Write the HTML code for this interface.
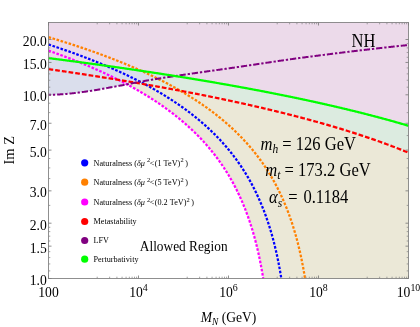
<!DOCTYPE html>
<html><head><meta charset="utf-8"><title>Im Z vs M_N</title>
<style>html,body{margin:0;padding:0;background:#fff;}body{width:420px;height:327px;overflow:hidden;font-family:"Liberation Serif",serif;}svg{display:block;filter:blur(0.45px);}</style></head>
<body>
<svg width="420" height="327" viewBox="0 0 420 327">
<rect width="420" height="327" fill="#fff"/>
<g shape-rendering="geometricPrecision">
<path d="M48.50 22.50 L408.50 22.50 L408.50 125.77 L407.75 125.55 L407.00 125.33 L406.25 125.11 L405.50 124.89 L404.75 124.67 L404.00 124.45 L403.25 124.23 L402.50 124.02 L401.75 123.80 L401.00 123.58 L400.25 123.37 L399.50 123.15 L398.75 122.94 L398.00 122.72 L397.25 122.51 L396.50 122.30 L395.75 122.09 L395.00 121.87 L394.25 121.66 L393.50 121.45 L392.75 121.24 L392.00 121.03 L391.25 120.82 L390.50 120.62 L389.75 120.41 L389.00 120.20 L388.25 119.99 L387.50 119.79 L386.75 119.58 L386.00 119.38 L385.25 119.17 L384.50 118.97 L383.75 118.77 L383.00 118.56 L382.25 118.36 L381.50 118.16 L380.75 117.96 L380.00 117.76 L379.25 117.56 L378.50 117.36 L377.75 117.16 L377.00 116.96 L376.25 116.76 L375.50 116.56 L374.75 116.36 L374.00 116.17 L373.25 115.97 L372.50 115.77 L371.75 115.58 L371.00 115.38 L370.25 115.19 L369.50 114.99 L368.75 114.80 L368.00 114.61 L367.25 114.41 L366.50 114.22 L365.75 114.03 L365.00 113.84 L364.25 113.65 L363.50 113.46 L362.75 113.27 L362.00 113.08 L361.25 112.89 L360.50 112.70 L359.75 112.51 L359.00 112.32 L358.25 112.14 L357.50 111.95 L356.75 111.76 L356.00 111.58 L355.25 111.39 L354.50 111.21 L353.75 111.02 L353.00 110.84 L352.25 110.65 L351.50 110.47 L350.75 110.29 L350.00 110.11 L349.25 109.92 L348.50 109.74 L347.75 109.56 L347.00 109.38 L346.25 109.20 L345.50 109.02 L344.75 108.84 L344.00 108.66 L343.25 108.48 L342.50 108.30 L341.75 108.12 L341.00 107.95 L340.25 107.77 L339.50 107.59 L338.75 107.42 L338.00 107.24 L337.25 107.06 L336.50 106.89 L335.75 106.71 L335.00 106.54 L334.25 106.36 L333.50 106.19 L332.75 106.02 L332.00 105.84 L331.25 105.67 L330.50 105.50 L329.75 105.33 L329.00 105.16 L328.25 104.98 L327.50 104.81 L326.75 104.64 L326.00 104.47 L325.25 104.30 L324.50 104.13 L323.75 103.96 L323.00 103.80 L322.25 103.63 L321.50 103.46 L320.75 103.29 L320.00 103.12 L319.25 102.96 L318.50 102.79 L317.75 102.62 L317.00 102.46 L316.25 102.29 L315.50 102.13 L314.75 101.96 L314.00 101.80 L313.25 101.63 L312.50 101.47 L311.75 101.31 L311.00 101.14 L310.25 100.98 L309.50 100.82 L308.75 100.66 L308.00 100.49 L307.25 100.33 L306.50 100.17 L305.75 100.01 L305.00 99.85 L304.25 99.69 L303.50 99.53 L302.75 99.37 L302.00 99.21 L301.25 99.05 L300.50 98.89 L299.75 98.74 L299.00 98.58 L298.25 98.42 L297.50 98.26 L296.75 98.11 L296.00 97.95 L295.25 97.79 L294.50 97.64 L293.75 97.48 L293.00 97.32 L292.25 97.17 L291.50 97.01 L290.75 96.86 L290.00 96.71 L289.25 96.55 L288.50 96.40 L287.75 96.24 L287.00 96.09 L286.25 95.94 L285.50 95.79 L284.75 95.63 L284.00 95.48 L283.25 95.33 L282.50 95.18 L281.75 95.03 L281.00 94.88 L280.25 94.73 L279.50 94.58 L278.75 94.43 L278.00 94.28 L277.25 94.13 L276.50 93.98 L275.75 93.83 L275.00 93.68 L274.25 93.53 L273.50 93.38 L272.75 93.24 L272.00 93.09 L271.25 92.94 L270.50 92.79 L269.75 92.65 L269.00 92.50 L268.25 92.36 L267.50 92.21 L266.75 92.06 L266.00 91.92 L265.25 91.77 L264.50 91.63 L263.75 91.48 L263.00 91.34 L262.25 91.20 L261.50 91.05 L260.75 90.91 L260.00 90.77 L259.25 90.62 L258.50 90.48 L257.75 90.34 L257.00 90.19 L256.25 90.05 L255.50 89.91 L254.75 89.77 L254.00 89.63 L253.25 89.49 L252.50 89.35 L251.75 89.21 L251.00 89.07 L250.25 88.93 L249.50 88.79 L248.75 88.65 L248.00 88.51 L247.25 88.37 L246.50 88.23 L245.75 88.09 L245.00 87.95 L244.25 87.81 L243.50 87.68 L242.75 87.54 L242.00 87.40 L241.25 87.27 L240.50 87.13 L239.75 86.99 L239.00 86.86 L238.25 86.72 L237.50 86.58 L236.75 86.45 L236.00 86.31 L235.25 86.18 L234.50 86.04 L233.75 85.91 L233.00 85.77 L232.25 85.64 L231.50 85.50 L230.75 85.37 L230.00 85.24 L229.25 85.10 L228.50 84.97 L227.75 84.84 L227.00 84.70 L226.25 84.57 L225.50 84.44 L224.75 84.31 L224.00 84.18 L223.25 84.04 L222.50 83.91 L221.75 83.78 L221.00 83.65 L220.25 83.52 L219.50 83.39 L218.75 83.26 L218.00 83.13 L217.25 83.00 L216.50 82.87 L215.75 82.74 L215.00 82.61 L214.25 82.48 L213.50 82.35 L212.75 82.22 L212.00 82.09 L211.25 81.97 L210.50 81.84 L209.75 81.71 L209.00 81.58 L208.25 81.46 L207.50 81.33 L206.75 81.20 L206.00 81.07 L205.25 80.95 L204.50 80.82 L203.75 80.69 L203.00 80.57 L202.25 80.44 L201.50 80.32 L200.75 80.19 L200.00 80.07 L199.25 79.94 L198.50 79.82 L197.75 79.69 L197.00 79.57 L196.25 79.44 L195.50 79.32 L194.75 79.20 L194.00 79.07 L193.25 78.95 L192.50 78.82 L191.75 78.70 L191.00 78.58 L190.25 78.46 L189.50 78.33 L188.75 78.21 L188.00 78.09 L187.25 77.97 L186.50 77.84 L185.75 77.72 L185.00 77.60 L184.25 77.48 L183.50 77.36 L182.75 77.24 L182.00 77.12 L181.25 77.00 L180.50 76.88 L179.75 76.76 L179.00 76.64 L178.25 76.52 L177.50 76.40 L176.75 76.28 L176.00 76.16 L175.25 76.04 L174.50 75.92 L173.75 75.80 L173.00 75.68 L172.25 75.56 L171.50 75.45 L170.75 75.33 L170.00 75.21 L169.25 75.09 L168.50 74.98 L167.75 74.86 L167.00 74.74 L166.25 74.62 L165.50 74.51 L164.75 74.39 L164.00 74.27 L163.25 74.16 L162.50 74.04 L161.75 73.93 L161.00 73.81 L160.25 73.69 L159.50 73.58 L158.75 73.46 L158.00 73.35 L157.25 73.23 L156.50 73.12 L155.75 73.00 L155.00 72.89 L154.25 72.78 L153.50 72.66 L152.75 72.55 L152.00 72.43 L151.25 72.32 L150.50 72.21 L149.75 72.09 L149.00 71.98 L148.25 71.87 L147.50 71.75 L146.75 71.64 L146.00 71.53 L145.25 71.42 L144.50 71.30 L143.75 71.19 L143.00 71.08 L142.25 70.97 L141.50 70.86 L140.75 70.75 L140.00 70.63 L139.25 70.52 L138.50 70.41 L137.75 70.30 L137.00 70.19 L136.25 70.08 L135.50 69.97 L134.75 69.86 L134.00 69.75 L133.25 69.64 L132.50 69.53 L131.75 69.42 L131.00 69.31 L130.25 69.20 L129.50 69.09 L128.75 68.98 L128.00 68.87 L127.25 68.77 L126.50 68.66 L125.75 68.55 L125.00 68.44 L124.25 68.33 L123.50 68.22 L122.75 68.12 L122.00 68.01 L121.25 67.90 L120.50 67.79 L119.75 67.69 L119.00 67.58 L118.25 67.47 L117.50 67.37 L116.75 67.26 L116.00 67.15 L115.25 67.05 L114.50 66.94 L113.75 66.83 L113.00 66.73 L112.25 66.62 L111.50 66.52 L110.75 66.41 L110.00 66.31 L109.25 66.20 L108.50 66.10 L107.75 65.99 L107.00 65.89 L106.25 65.78 L105.50 65.68 L104.75 65.57 L104.00 65.47 L103.25 65.36 L102.50 65.26 L101.75 65.16 L101.00 65.05 L100.25 64.95 L99.50 64.84 L98.75 64.74 L98.00 64.64 L97.25 64.53 L96.50 64.43 L95.75 64.33 L95.00 64.23 L94.25 64.12 L93.50 64.02 L92.75 63.92 L92.00 63.82 L91.25 63.71 L90.50 63.61 L89.75 63.51 L89.00 63.41 L88.25 63.31 L87.50 63.21 L86.75 63.11 L86.00 63.00 L85.25 62.90 L84.50 62.80 L83.75 62.70 L83.00 62.60 L82.25 62.50 L81.50 62.40 L80.75 62.30 L80.00 62.20 L79.25 62.10 L78.50 62.00 L77.75 61.90 L77.00 61.80 L76.25 61.70 L75.50 61.60 L74.75 61.50 L74.00 61.40 L73.25 61.30 L72.50 61.21 L71.75 61.11 L71.00 61.01 L70.25 60.91 L69.50 60.81 L68.75 60.71 L68.00 60.62 L67.25 60.52 L66.50 60.42 L65.75 60.32 L65.00 60.22 L64.25 60.13 L63.50 60.03 L62.75 59.93 L62.00 59.83 L61.25 59.74 L60.50 59.64 L59.75 59.54 L59.00 59.45 L58.25 59.35 L57.50 59.25 L56.75 59.16 L56.00 59.06 L55.25 58.96 L54.50 58.87 L53.75 58.77 L53.00 58.68 L52.25 58.58 L51.50 58.49 L50.75 58.39 L50.00 58.30 L49.25 58.20 L48.50 58.10Z" fill="#ecdaea"/>
<path d="M48.50 58.10 L49.25 58.20 L50.00 58.30 L50.75 58.39 L51.50 58.49 L52.25 58.58 L53.00 58.68 L53.75 58.77 L54.50 58.87 L55.25 58.96 L56.00 59.06 L56.75 59.16 L57.50 59.25 L58.25 59.35 L59.00 59.45 L59.75 59.54 L60.50 59.64 L61.25 59.74 L62.00 59.83 L62.75 59.93 L63.50 60.03 L64.25 60.13 L65.00 60.22 L65.75 60.32 L66.50 60.42 L67.25 60.52 L68.00 60.62 L68.75 60.71 L69.50 60.81 L70.25 60.91 L71.00 61.01 L71.75 61.11 L72.50 61.21 L73.25 61.30 L74.00 61.40 L74.75 61.50 L75.50 61.60 L76.25 61.70 L77.00 61.80 L77.75 61.90 L78.50 62.00 L79.25 62.10 L80.00 62.20 L80.75 62.30 L81.50 62.40 L82.25 62.50 L83.00 62.60 L83.75 62.70 L84.50 62.80 L85.25 62.90 L86.00 63.00 L86.75 63.11 L87.50 63.21 L88.25 63.31 L89.00 63.41 L89.75 63.51 L90.50 63.61 L91.25 63.71 L92.00 63.82 L92.75 63.92 L93.50 64.02 L94.25 64.12 L95.00 64.23 L95.75 64.33 L96.50 64.43 L97.25 64.53 L98.00 64.64 L98.75 64.74 L99.50 64.84 L100.25 64.95 L101.00 65.05 L101.75 65.16 L102.50 65.26 L103.25 65.36 L104.00 65.47 L104.75 65.57 L105.50 65.68 L106.25 65.78 L107.00 65.89 L107.75 65.99 L108.50 66.10 L109.25 66.20 L110.00 66.31 L110.75 66.41 L111.50 66.52 L112.25 66.62 L113.00 66.73 L113.75 66.83 L114.50 66.94 L115.25 67.05 L116.00 67.15 L116.75 67.26 L117.50 67.37 L118.25 67.47 L119.00 67.58 L119.75 67.69 L120.50 67.79 L121.25 67.90 L122.00 68.01 L122.75 68.12 L123.50 68.22 L124.25 68.33 L125.00 68.44 L125.75 68.55 L126.50 68.66 L127.25 68.77 L128.00 68.87 L128.75 68.98 L129.50 69.09 L130.25 69.20 L131.00 69.31 L131.75 69.42 L132.50 69.53 L133.25 69.64 L134.00 69.75 L134.75 69.86 L135.50 69.97 L136.25 70.08 L137.00 70.19 L137.75 70.30 L138.50 70.41 L139.25 70.52 L140.00 70.63 L140.75 70.75 L141.50 70.86 L142.25 70.97 L143.00 71.08 L143.75 71.19 L144.50 71.30 L145.25 71.42 L146.00 71.53 L146.75 71.64 L147.50 71.75 L148.25 71.87 L149.00 71.98 L149.75 72.09 L150.50 72.21 L151.25 72.32 L152.00 72.43 L152.75 72.55 L153.50 72.66 L154.25 72.78 L155.00 72.89 L155.75 73.00 L156.50 73.12 L157.25 73.23 L158.00 73.35 L158.75 73.46 L159.50 73.58 L160.25 73.69 L161.00 73.81 L161.75 73.93 L162.50 74.04 L163.25 74.16 L164.00 74.27 L164.75 74.39 L165.50 74.51 L166.25 74.62 L167.00 74.74 L167.75 74.86 L168.50 74.98 L169.25 75.09 L170.00 75.21 L170.75 75.33 L171.50 75.45 L172.25 75.56 L173.00 75.68 L173.75 75.80 L174.50 75.92 L175.25 76.04 L176.00 76.16 L176.75 76.28 L177.50 76.40 L178.25 76.52 L179.00 76.64 L179.75 76.76 L180.50 76.88 L181.25 77.00 L182.00 77.12 L182.75 77.24 L183.50 77.36 L184.25 77.48 L185.00 77.60 L185.75 77.72 L186.50 77.84 L187.25 77.97 L188.00 78.09 L188.75 78.21 L189.50 78.33 L190.25 78.46 L191.00 78.58 L191.75 78.70 L192.50 78.82 L193.25 78.95 L194.00 79.07 L194.75 79.20 L195.50 79.32 L196.25 79.44 L197.00 79.57 L197.75 79.69 L198.50 79.82 L199.25 79.94 L200.00 80.07 L200.75 80.19 L201.50 80.32 L202.25 80.44 L203.00 80.57 L203.75 80.69 L204.50 80.82 L205.25 80.95 L206.00 81.07 L206.75 81.20 L207.50 81.33 L208.25 81.46 L209.00 81.58 L209.75 81.71 L210.50 81.84 L211.25 81.97 L212.00 82.09 L212.75 82.22 L213.50 82.35 L214.25 82.48 L215.00 82.61 L215.75 82.74 L216.50 82.87 L217.25 83.00 L218.00 83.13 L218.75 83.26 L219.50 83.39 L220.25 83.52 L221.00 83.65 L221.75 83.78 L222.50 83.91 L223.25 84.04 L224.00 84.18 L224.75 84.31 L225.50 84.44 L226.25 84.57 L227.00 84.70 L227.75 84.84 L228.50 84.97 L229.25 85.10 L230.00 85.24 L230.75 85.37 L231.50 85.50 L232.25 85.64 L233.00 85.77 L233.75 85.91 L234.50 86.04 L235.25 86.18 L236.00 86.31 L236.75 86.45 L237.50 86.58 L238.25 86.72 L239.00 86.86 L239.75 86.99 L240.50 87.13 L241.25 87.27 L242.00 87.40 L242.75 87.54 L243.50 87.68 L244.25 87.81 L245.00 87.95 L245.75 88.09 L246.50 88.23 L247.25 88.37 L248.00 88.51 L248.75 88.65 L249.50 88.79 L250.25 88.93 L251.00 89.07 L251.75 89.21 L252.50 89.35 L253.25 89.49 L254.00 89.63 L254.75 89.77 L255.50 89.91 L256.25 90.05 L257.00 90.19 L257.75 90.34 L258.50 90.48 L259.25 90.62 L260.00 90.77 L260.75 90.91 L261.50 91.05 L262.25 91.20 L263.00 91.34 L263.75 91.48 L264.50 91.63 L265.25 91.77 L266.00 91.92 L266.75 92.06 L267.50 92.21 L268.25 92.36 L269.00 92.50 L269.75 92.65 L270.50 92.79 L271.25 92.94 L272.00 93.09 L272.75 93.24 L273.50 93.38 L274.25 93.53 L275.00 93.68 L275.75 93.83 L276.50 93.98 L277.25 94.13 L278.00 94.28 L278.75 94.43 L279.50 94.58 L280.25 94.73 L281.00 94.88 L281.75 95.03 L282.50 95.18 L283.25 95.33 L284.00 95.48 L284.75 95.63 L285.50 95.79 L286.25 95.94 L287.00 96.09 L287.75 96.24 L288.50 96.40 L289.25 96.55 L290.00 96.71 L290.75 96.86 L291.50 97.01 L292.25 97.17 L293.00 97.32 L293.75 97.48 L294.50 97.64 L295.25 97.79 L296.00 97.95 L296.75 98.11 L297.50 98.26 L298.25 98.42 L299.00 98.58 L299.75 98.74 L300.50 98.89 L301.25 99.05 L302.00 99.21 L302.75 99.37 L303.50 99.53 L304.25 99.69 L305.00 99.85 L305.75 100.01 L306.50 100.17 L307.25 100.33 L308.00 100.49 L308.75 100.66 L309.50 100.82 L310.25 100.98 L311.00 101.14 L311.75 101.31 L312.50 101.47 L313.25 101.63 L314.00 101.80 L314.75 101.96 L315.50 102.13 L316.25 102.29 L317.00 102.46 L317.75 102.62 L318.50 102.79 L319.25 102.96 L320.00 103.12 L320.75 103.29 L321.50 103.46 L322.25 103.63 L323.00 103.80 L323.75 103.96 L324.50 104.13 L325.25 104.30 L326.00 104.47 L326.75 104.64 L327.50 104.81 L328.25 104.98 L329.00 105.16 L329.75 105.33 L330.50 105.50 L331.25 105.67 L332.00 105.84 L332.75 106.02 L333.50 106.19 L334.25 106.36 L335.00 106.54 L335.75 106.71 L336.50 106.89 L337.25 107.06 L338.00 107.24 L338.75 107.42 L339.50 107.59 L340.25 107.77 L341.00 107.95 L341.75 108.12 L342.50 108.30 L343.25 108.48 L344.00 108.66 L344.75 108.84 L345.50 109.02 L346.25 109.20 L347.00 109.38 L347.75 109.56 L348.50 109.74 L349.25 109.92 L350.00 110.11 L350.75 110.29 L351.50 110.47 L352.25 110.65 L353.00 110.84 L353.75 111.02 L354.50 111.21 L355.25 111.39 L356.00 111.58 L356.75 111.76 L357.50 111.95 L358.25 112.14 L359.00 112.32 L359.75 112.51 L360.50 112.70 L361.25 112.89 L362.00 113.08 L362.75 113.27 L363.50 113.46 L364.25 113.65 L365.00 113.84 L365.75 114.03 L366.50 114.22 L367.25 114.41 L368.00 114.61 L368.75 114.80 L369.50 114.99 L370.25 115.19 L371.00 115.38 L371.75 115.58 L372.50 115.77 L373.25 115.97 L374.00 116.17 L374.75 116.36 L375.50 116.56 L376.25 116.76 L377.00 116.96 L377.75 117.16 L378.50 117.36 L379.25 117.56 L380.00 117.76 L380.75 117.96 L381.50 118.16 L382.25 118.36 L383.00 118.56 L383.75 118.77 L384.50 118.97 L385.25 119.17 L386.00 119.38 L386.75 119.58 L387.50 119.79 L388.25 119.99 L389.00 120.20 L389.75 120.41 L390.50 120.62 L391.25 120.82 L392.00 121.03 L392.75 121.24 L393.50 121.45 L394.25 121.66 L395.00 121.87 L395.75 122.09 L396.50 122.30 L397.25 122.51 L398.00 122.72 L398.75 122.94 L399.50 123.15 L400.25 123.37 L401.00 123.58 L401.75 123.80 L402.50 124.02 L403.25 124.23 L404.00 124.45 L404.75 124.67 L405.50 124.89 L406.25 125.11 L407.00 125.33 L407.75 125.55 L408.50 125.77 L408.50 152.69 L407.75 152.38 L407.00 152.08 L406.25 151.77 L405.50 151.47 L404.75 151.17 L404.00 150.87 L403.25 150.57 L402.50 150.27 L401.75 149.97 L401.00 149.67 L400.25 149.38 L399.50 149.08 L398.75 148.79 L398.00 148.50 L397.25 148.20 L396.50 147.91 L395.75 147.62 L395.00 147.34 L394.25 147.05 L393.50 146.76 L392.75 146.48 L392.00 146.19 L391.25 145.91 L390.50 145.63 L389.75 145.35 L389.00 145.07 L388.25 144.79 L387.50 144.51 L386.75 144.23 L386.00 143.96 L385.25 143.68 L384.50 143.41 L383.75 143.13 L383.00 142.86 L382.25 142.59 L381.50 142.32 L380.75 142.05 L380.00 141.78 L379.25 141.51 L378.50 141.25 L377.75 140.98 L377.00 140.71 L376.25 140.45 L375.50 140.19 L374.75 139.92 L374.00 139.66 L373.25 139.40 L372.50 139.14 L371.75 138.88 L371.00 138.62 L370.25 138.37 L369.50 138.11 L368.75 137.85 L368.00 137.60 L367.25 137.34 L366.50 137.09 L365.75 136.84 L365.00 136.59 L364.25 136.34 L363.50 136.09 L362.75 135.84 L362.00 135.59 L361.25 135.34 L360.50 135.09 L359.75 134.85 L359.00 134.60 L358.25 134.36 L357.50 134.11 L356.75 133.87 L356.00 133.62 L355.25 133.38 L354.50 133.14 L353.75 132.90 L353.00 132.66 L352.25 132.42 L351.50 132.18 L350.75 131.95 L350.00 131.71 L349.25 131.47 L348.50 131.24 L347.75 131.00 L347.00 130.77 L346.25 130.54 L345.50 130.30 L344.75 130.07 L344.00 129.84 L343.25 129.61 L342.50 129.38 L341.75 129.15 L341.00 128.92 L340.25 128.69 L339.50 128.47 L338.75 128.24 L338.00 128.01 L337.25 127.79 L336.50 127.56 L335.75 127.34 L335.00 127.11 L334.25 126.89 L333.50 126.67 L332.75 126.45 L332.00 126.23 L331.25 126.01 L330.50 125.79 L329.75 125.57 L329.00 125.35 L328.25 125.13 L327.50 124.91 L326.75 124.70 L326.00 124.48 L325.25 124.26 L324.50 124.05 L323.75 123.83 L323.00 123.62 L322.25 123.41 L321.50 123.19 L320.75 122.98 L320.00 122.77 L319.25 122.56 L318.50 122.35 L317.75 122.14 L317.00 121.93 L316.25 121.72 L315.50 121.51 L314.75 121.30 L314.00 121.10 L313.25 120.89 L312.50 120.68 L311.75 120.48 L311.00 120.27 L310.25 120.07 L309.50 119.86 L308.75 119.66 L308.00 119.46 L307.25 119.25 L306.50 119.05 L305.75 118.85 L305.00 118.65 L304.25 118.45 L303.50 118.25 L302.75 118.05 L302.00 117.85 L301.25 117.65 L300.50 117.45 L299.75 117.26 L299.00 117.06 L298.25 116.86 L297.50 116.67 L296.75 116.47 L296.00 116.27 L295.25 116.08 L294.50 115.89 L293.75 115.69 L293.00 115.50 L292.25 115.31 L291.50 115.11 L290.75 114.92 L290.00 114.73 L289.25 114.54 L288.50 114.35 L287.75 114.16 L287.00 113.97 L286.25 113.78 L285.50 113.59 L284.75 113.40 L284.00 113.22 L283.25 113.03 L282.50 112.84 L281.75 112.65 L281.00 112.47 L280.25 112.28 L279.50 112.10 L278.75 111.91 L278.00 111.73 L277.25 111.54 L276.50 111.36 L275.75 111.18 L275.00 111.00 L274.25 110.81 L273.50 110.63 L272.75 110.45 L272.00 110.27 L271.25 110.09 L270.50 109.91 L269.75 109.73 L269.00 109.55 L268.25 109.37 L267.50 109.19 L266.75 109.01 L266.00 108.84 L265.25 108.66 L264.50 108.48 L263.75 108.30 L263.00 108.13 L262.25 107.95 L261.50 107.78 L260.75 107.60 L260.00 107.43 L259.25 107.25 L258.50 107.08 L257.75 106.91 L257.00 106.73 L256.25 106.56 L255.50 106.39 L254.75 106.22 L254.00 106.04 L253.25 105.87 L252.50 105.70 L251.75 105.53 L251.00 105.36 L250.25 105.19 L249.50 105.02 L248.75 104.85 L248.00 104.68 L247.25 104.52 L246.50 104.35 L245.75 104.18 L245.00 104.01 L244.25 103.85 L243.50 103.68 L242.75 103.51 L242.00 103.35 L241.25 103.18 L240.50 103.02 L239.75 102.85 L239.00 102.69 L238.25 102.52 L237.50 102.36 L236.75 102.19 L236.00 102.03 L235.25 101.87 L234.50 101.71 L233.75 101.54 L233.00 101.38 L232.25 101.22 L231.50 101.06 L230.75 100.90 L230.00 100.74 L229.25 100.58 L228.50 100.42 L227.75 100.26 L227.00 100.10 L226.25 99.94 L225.50 99.78 L224.75 99.62 L224.00 99.46 L223.25 99.31 L222.50 99.15 L221.75 98.99 L221.00 98.84 L220.25 98.68 L219.50 98.52 L218.75 98.37 L218.00 98.21 L217.25 98.06 L216.50 97.90 L215.75 97.75 L215.00 97.59 L214.25 97.44 L213.50 97.28 L212.75 97.13 L212.00 96.98 L211.25 96.82 L210.50 96.67 L209.75 96.52 L209.00 96.37 L208.25 96.22 L207.50 96.06 L206.75 95.91 L206.00 95.76 L205.25 95.61 L204.50 95.46 L203.75 95.31 L203.00 95.16 L202.25 95.01 L201.50 94.86 L200.75 94.71 L200.00 94.57 L199.25 94.42 L198.50 94.27 L197.75 94.12 L197.00 93.97 L196.25 93.83 L195.50 93.68 L194.75 93.53 L194.00 93.39 L193.25 93.24 L192.50 93.09 L191.75 92.95 L191.00 92.80 L190.25 92.66 L189.50 92.51 L188.75 92.37 L188.00 92.22 L187.25 92.08 L186.50 91.94 L185.75 91.79 L185.00 91.65 L184.25 91.51 L183.50 91.36 L182.75 91.22 L182.00 91.08 L181.25 90.94 L180.50 90.80 L179.75 90.65 L179.00 90.51 L178.25 90.37 L177.50 90.23 L176.75 90.09 L176.00 89.95 L175.25 89.81 L174.50 89.67 L173.75 89.53 L173.00 89.39 L172.25 89.25 L171.50 89.11 L170.75 88.98 L170.00 88.84 L169.25 88.70 L168.50 88.56 L167.75 88.42 L167.00 88.29 L166.25 88.15 L165.50 88.01 L164.75 87.88 L164.00 87.74 L163.25 87.60 L162.50 87.47 L161.75 87.33 L161.00 87.20 L160.25 87.06 L159.50 86.93 L158.75 86.79 L158.00 86.66 L157.25 86.52 L156.50 86.39 L155.75 86.25 L155.00 86.12 L154.25 85.99 L153.50 85.85 L152.75 85.72 L152.00 85.59 L151.25 85.45 L150.50 85.32 L149.75 85.19 L149.00 85.06 L148.25 84.93 L147.50 84.80 L146.75 84.66 L146.00 84.53 L145.25 84.40 L144.50 84.27 L143.75 84.14 L143.00 84.01 L142.25 83.88 L141.50 83.75 L140.75 83.62 L140.00 83.49 L139.25 83.36 L138.50 83.23 L137.75 83.11 L137.00 82.98 L136.25 82.85 L135.50 82.72 L134.75 82.59 L134.00 82.47 L133.25 82.34 L132.50 82.21 L131.75 82.08 L131.00 81.96 L130.25 81.83 L129.50 81.70 L128.75 81.58 L128.00 81.45 L127.25 81.33 L126.50 81.20 L125.75 81.07 L125.00 80.95 L124.25 80.82 L123.50 80.70 L122.75 80.57 L122.00 80.45 L121.25 80.33 L120.50 80.20 L119.75 80.08 L119.00 79.95 L118.25 79.83 L117.50 79.71 L116.75 79.58 L116.00 79.46 L115.25 79.34 L114.50 79.21 L113.75 79.09 L113.00 78.97 L112.25 78.85 L111.50 78.73 L110.75 78.60 L110.00 78.48 L109.25 78.36 L108.50 78.24 L107.75 78.12 L107.00 78.00 L106.25 77.88 L105.50 77.76 L104.75 77.64 L104.00 77.52 L103.25 77.40 L102.50 77.28 L101.75 77.16 L101.00 77.04 L100.25 76.92 L99.50 76.80 L98.75 76.68 L98.00 76.56 L97.25 76.45 L96.50 76.33 L95.75 76.21 L95.00 76.09 L94.25 75.97 L93.50 75.86 L92.75 75.74 L92.00 75.62 L91.25 75.51 L90.50 75.39 L89.75 75.27 L89.00 75.16 L88.25 75.04 L87.50 74.92 L86.75 74.81 L86.00 74.69 L85.25 74.58 L84.50 74.46 L83.75 74.34 L83.00 74.23 L82.25 74.11 L81.50 74.00 L80.75 73.88 L80.00 73.77 L79.25 73.66 L78.50 73.54 L77.75 73.43 L77.00 73.31 L76.25 73.20 L75.50 73.09 L74.75 72.97 L74.00 72.86 L73.25 72.75 L72.50 72.63 L71.75 72.52 L71.00 72.41 L70.25 72.30 L69.50 72.18 L68.75 72.07 L68.00 71.96 L67.25 71.85 L66.50 71.74 L65.75 71.63 L65.00 71.51 L64.25 71.40 L63.50 71.29 L62.75 71.18 L62.00 71.07 L61.25 70.96 L60.50 70.85 L59.75 70.74 L59.00 70.63 L58.25 70.52 L57.50 70.41 L56.75 70.30 L56.00 70.19 L55.25 70.08 L54.50 69.97 L53.75 69.86 L53.00 69.75 L52.25 69.65 L51.50 69.54 L50.75 69.43 L50.00 69.32 L49.25 69.21 L48.50 69.10Z" fill="#dcebe0"/>
<path d="M48.50 58.10 L49.25 58.20 L50.00 58.30 L50.75 58.39 L51.50 58.49 L52.25 58.58 L53.00 58.68 L53.75 58.77 L54.50 58.87 L55.25 58.96 L56.00 59.06 L56.75 59.16 L57.50 59.25 L58.25 59.35 L59.00 59.45 L59.75 59.54 L60.50 59.64 L61.25 59.74 L62.00 59.83 L62.75 59.93 L63.50 60.03 L64.25 60.13 L65.00 60.22 L65.75 60.32 L66.50 60.42 L67.25 60.52 L68.00 60.62 L68.75 60.71 L69.50 60.81 L70.25 60.91 L71.00 61.01 L71.75 61.11 L72.50 61.21 L73.25 61.30 L74.00 61.40 L74.75 61.50 L75.50 61.60 L76.25 61.70 L77.00 61.80 L77.75 61.90 L78.50 62.00 L79.25 62.10 L80.00 62.20 L80.75 62.30 L81.50 62.40 L82.25 62.50 L83.00 62.60 L83.75 62.70 L84.50 62.80 L85.25 62.90 L86.00 63.00 L86.75 63.11 L87.50 63.21 L88.25 63.31 L89.00 63.41 L89.75 63.51 L90.50 63.61 L91.25 63.71 L92.00 63.82 L92.75 63.92 L93.50 64.02 L94.25 64.12 L95.00 64.23 L95.75 64.33 L96.50 64.43 L97.25 64.53 L98.00 64.64 L98.75 64.74 L99.50 64.84 L100.25 64.95 L101.00 65.05 L101.75 65.16 L102.50 65.26 L103.25 65.36 L104.00 65.47 L104.75 65.57 L105.50 65.68 L106.25 65.78 L107.00 65.89 L107.75 65.99 L108.50 66.10 L109.25 66.20 L110.00 66.31 L110.75 66.41 L111.50 66.52 L112.25 66.62 L113.00 66.73 L113.75 66.83 L114.50 66.94 L115.25 67.05 L116.00 67.15 L116.75 67.26 L117.50 67.37 L118.25 67.47 L119.00 67.58 L119.75 67.69 L120.50 67.79 L121.25 67.90 L122.00 68.01 L122.75 68.12 L123.50 68.22 L124.25 68.33 L125.00 68.44 L125.75 68.55 L126.50 68.66 L127.25 68.77 L128.00 68.87 L128.75 68.98 L129.50 69.09 L130.25 69.20 L131.00 69.31 L131.75 69.42 L132.50 69.53 L133.25 69.64 L134.00 69.75 L134.75 69.86 L135.50 69.97 L136.25 70.08 L137.00 70.19 L137.75 70.30 L138.50 70.41 L139.25 70.52 L140.00 70.63 L140.75 70.75 L141.50 70.86 L142.25 70.97 L143.00 71.08 L143.75 71.19 L144.50 71.30 L145.25 71.42 L146.00 71.53 L146.75 71.64 L147.50 71.75 L148.25 71.87 L149.00 71.98 L149.75 72.09 L150.50 72.21 L151.25 72.32 L152.00 72.43 L152.75 72.55 L153.50 72.66 L154.25 72.78 L155.00 72.89 L155.75 73.00 L156.50 73.12 L157.25 73.23 L158.00 73.35 L158.75 73.46 L159.50 73.58 L160.25 73.69 L161.00 73.81 L161.75 73.93 L162.50 74.04 L163.25 74.16 L164.00 74.27 L164.75 74.39 L165.50 74.51 L166.25 74.62 L167.00 74.74 L167.75 74.86 L168.50 74.98 L169.25 75.09 L170.00 75.21 L170.75 75.33 L171.50 75.45 L172.25 75.56 L173.00 75.68 L173.75 75.80 L174.50 75.92 L175.25 76.04 L175.25 75.99 L174.50 76.11 L173.75 76.22 L173.00 76.33 L172.25 76.44 L171.50 76.56 L170.75 76.67 L170.00 76.79 L169.25 76.90 L168.50 77.02 L167.75 77.13 L167.00 77.25 L166.25 77.36 L165.50 77.48 L164.75 77.60 L164.00 77.72 L163.25 77.83 L162.50 77.95 L161.75 78.07 L161.00 78.19 L160.25 78.31 L159.50 78.43 L158.75 78.55 L158.00 78.68 L157.25 78.80 L156.50 78.92 L155.75 79.05 L155.00 79.17 L154.25 79.30 L153.50 79.42 L152.75 79.55 L152.00 79.68 L151.25 79.80 L150.50 79.93 L149.75 80.06 L149.00 80.19 L148.25 80.32 L147.50 80.45 L146.75 80.58 L146.00 80.72 L145.25 80.85 L144.50 80.98 L143.75 81.12 L143.00 81.25 L142.25 81.39 L141.50 81.53 L140.75 81.66 L140.00 81.80 L139.25 81.94 L138.50 82.08 L137.75 82.22 L137.00 82.37 L136.25 82.52 L135.50 82.66 L134.75 82.81 L134.00 82.96 L133.25 83.11 L132.50 83.26 L131.75 83.41 L131.00 83.56 L130.25 83.71 L129.50 83.86 L128.75 84.01 L128.00 84.16 L127.25 84.30 L126.50 84.45 L125.75 84.59 L125.00 84.73 L124.25 84.87 L123.50 85.01 L122.75 85.15 L122.00 85.29 L121.25 85.42 L120.50 85.56 L119.75 85.70 L119.00 85.83 L118.25 85.97 L117.50 86.10 L116.75 86.24 L116.00 86.37 L115.25 86.51 L114.50 86.64 L113.75 86.77 L113.00 86.91 L112.25 87.05 L111.50 87.18 L110.75 87.32 L110.00 87.46 L109.25 87.59 L108.50 87.73 L107.75 87.87 L107.00 88.01 L106.25 88.15 L105.50 88.29 L104.75 88.43 L104.00 88.57 L103.25 88.71 L102.50 88.85 L101.75 88.99 L101.00 89.12 L100.25 89.26 L99.50 89.39 L98.75 89.52 L98.00 89.65 L97.25 89.77 L96.50 89.90 L95.75 90.03 L95.00 90.15 L94.25 90.27 L93.50 90.40 L92.75 90.52 L92.00 90.64 L91.25 90.76 L90.50 90.88 L89.75 91.00 L89.00 91.11 L88.25 91.23 L87.50 91.34 L86.75 91.45 L86.00 91.56 L85.25 91.67 L84.50 91.78 L83.75 91.88 L83.00 91.99 L82.25 92.09 L81.50 92.19 L80.75 92.29 L80.00 92.38 L79.25 92.48 L78.50 92.58 L77.75 92.67 L77.00 92.77 L76.25 92.86 L75.50 92.95 L74.75 93.04 L74.00 93.13 L73.25 93.21 L72.50 93.30 L71.75 93.38 L71.00 93.46 L70.25 93.54 L69.50 93.61 L68.75 93.69 L68.00 93.76 L67.25 93.83 L66.50 93.90 L65.75 93.97 L65.00 94.04 L64.25 94.10 L63.50 94.17 L62.75 94.22 L62.00 94.28 L61.25 94.33 L60.50 94.37 L59.75 94.41 L59.00 94.45 L58.25 94.49 L57.50 94.52 L56.75 94.56 L56.00 94.59 L55.25 94.62 L54.50 94.65 L53.75 94.68 L53.00 94.70 L52.25 94.73 L51.50 94.75 L50.75 94.77 L50.00 94.78 L49.25 94.79 L48.50 94.80Z" fill="#dadeec"/>
<path d="M127.25 84.30 L128.00 84.16 L128.75 84.01 L129.50 83.86 L130.25 83.71 L131.00 83.56 L131.75 83.41 L132.50 83.26 L133.25 83.11 L134.00 82.96 L134.75 82.81 L135.50 82.72 L136.25 82.85 L137.00 82.98 L137.75 83.11 L138.50 83.23 L139.25 83.36 L140.00 83.49 L140.75 83.62 L141.50 83.75 L142.25 83.88 L143.00 84.01 L143.75 84.14 L144.50 84.27 L145.25 84.40 L146.00 84.53 L146.75 84.66 L147.50 84.80 L148.25 84.93 L149.00 85.06 L149.75 85.19 L150.50 85.32 L151.25 85.45 L152.00 85.59 L152.75 85.72 L153.50 85.85 L154.25 85.99 L155.00 86.12 L155.75 86.25 L156.50 86.39 L157.25 86.52 L158.00 86.66 L158.75 86.79 L159.50 86.93 L160.25 87.06 L161.00 87.20 L161.75 87.33 L162.50 87.47 L163.25 87.60 L164.00 87.74 L164.75 87.88 L165.50 88.01 L166.25 88.15 L167.00 88.29 L167.75 88.42 L168.50 88.56 L169.25 88.70 L170.00 88.84 L170.75 88.98 L171.50 89.11 L172.25 89.25 L173.00 89.39 L173.75 89.53 L174.50 89.67 L175.25 89.81 L176.00 89.95 L176.75 90.09 L177.50 90.23 L178.25 90.37 L179.00 90.51 L179.75 90.65 L180.50 90.80 L181.25 90.94 L182.00 91.08 L182.75 91.22 L183.50 91.36 L184.25 91.51 L185.00 91.65 L185.75 91.79 L186.50 91.94 L187.25 92.08 L188.00 92.22 L188.75 92.37 L189.50 92.51 L190.25 92.66 L191.00 92.80 L191.75 92.95 L192.50 93.09 L193.25 93.24 L194.00 93.39 L194.75 93.53 L195.50 93.68 L196.25 93.83 L197.00 93.97 L197.75 94.12 L198.50 94.27 L199.25 94.42 L200.00 94.57 L200.75 94.71 L201.50 94.86 L202.25 95.01 L203.00 95.16 L203.75 95.31 L204.50 95.46 L205.25 95.61 L206.00 95.76 L206.75 95.91 L207.50 96.06 L208.25 96.22 L209.00 96.37 L209.75 96.52 L210.50 96.67 L211.25 96.82 L212.00 96.98 L212.75 97.13 L213.50 97.28 L214.25 97.44 L215.00 97.59 L215.75 97.75 L216.50 97.90 L217.25 98.06 L218.00 98.21 L218.75 98.37 L219.50 98.52 L220.25 98.68 L221.00 98.84 L221.75 98.99 L222.50 99.15 L223.25 99.31 L224.00 99.46 L224.75 99.62 L225.50 99.78 L226.25 99.94 L227.00 100.10 L227.75 100.26 L228.50 100.42 L229.25 100.58 L230.00 100.74 L230.75 100.90 L231.50 101.06 L232.25 101.22 L233.00 101.38 L233.75 101.54 L234.50 101.71 L235.25 101.87 L236.00 102.03 L236.75 102.19 L237.50 102.36 L238.25 102.52 L239.00 102.69 L239.75 102.85 L240.50 103.02 L241.25 103.18 L242.00 103.35 L242.75 103.51 L243.50 103.68 L244.25 103.85 L245.00 104.01 L245.75 104.18 L246.50 104.35 L247.25 104.52 L248.00 104.68 L248.75 104.85 L249.50 105.02 L250.25 105.19 L251.00 105.36 L251.75 105.53 L252.50 105.70 L253.25 105.87 L254.00 106.04 L254.75 106.22 L255.50 106.39 L256.25 106.56 L257.00 106.73 L257.75 106.91 L258.50 107.08 L259.25 107.25 L260.00 107.43 L260.75 107.60 L261.50 107.78 L262.25 107.95 L263.00 108.13 L263.75 108.30 L264.50 108.48 L265.25 108.66 L266.00 108.84 L266.75 109.01 L267.50 109.19 L268.25 109.37 L269.00 109.55 L269.75 109.73 L270.50 109.91 L271.25 110.09 L272.00 110.27 L272.75 110.45 L273.50 110.63 L274.25 110.81 L275.00 111.00 L275.75 111.18 L276.50 111.36 L277.25 111.54 L278.00 111.73 L278.75 111.91 L279.50 112.10 L280.25 112.28 L281.00 112.47 L281.75 112.65 L282.50 112.84 L283.25 113.03 L284.00 113.22 L284.75 113.40 L285.50 113.59 L286.25 113.78 L287.00 113.97 L287.75 114.16 L288.50 114.35 L289.25 114.54 L290.00 114.73 L290.75 114.92 L291.50 115.11 L292.25 115.31 L293.00 115.50 L293.75 115.69 L294.50 115.89 L295.25 116.08 L296.00 116.27 L296.75 116.47 L297.50 116.67 L298.25 116.86 L299.00 117.06 L299.75 117.26 L300.50 117.45 L301.25 117.65 L302.00 117.85 L302.75 118.05 L303.50 118.25 L304.25 118.45 L305.00 118.65 L305.75 118.85 L306.50 119.05 L307.25 119.25 L308.00 119.46 L308.75 119.66 L309.50 119.86 L310.25 120.07 L311.00 120.27 L311.75 120.48 L312.50 120.68 L313.25 120.89 L314.00 121.10 L314.75 121.30 L315.50 121.51 L316.25 121.72 L317.00 121.93 L317.75 122.14 L318.50 122.35 L319.25 122.56 L320.00 122.77 L320.75 122.98 L321.50 123.19 L322.25 123.41 L323.00 123.62 L323.75 123.83 L324.50 124.05 L325.25 124.26 L326.00 124.48 L326.75 124.70 L327.50 124.91 L328.25 125.13 L329.00 125.35 L329.75 125.57 L330.50 125.79 L331.25 126.01 L332.00 126.23 L332.75 126.45 L333.50 126.67 L334.25 126.89 L335.00 127.11 L335.75 127.34 L336.50 127.56 L337.25 127.79 L338.00 128.01 L338.75 128.24 L339.50 128.47 L340.25 128.69 L341.00 128.92 L341.75 129.15 L342.50 129.38 L343.25 129.61 L344.00 129.84 L344.75 130.07 L345.50 130.30 L346.25 130.54 L347.00 130.77 L347.75 131.00 L348.50 131.24 L349.25 131.47 L350.00 131.71 L350.75 131.95 L351.50 132.18 L352.25 132.42 L353.00 132.66 L353.75 132.90 L354.50 133.14 L355.25 133.38 L356.00 133.62 L356.75 133.87 L357.50 134.11 L358.25 134.36 L359.00 134.60 L359.75 134.85 L360.50 135.09 L361.25 135.34 L362.00 135.59 L362.75 135.84 L363.50 136.09 L364.25 136.34 L365.00 136.59 L365.75 136.84 L366.50 137.09 L367.25 137.34 L368.00 137.60 L368.75 137.85 L369.50 138.11 L370.25 138.37 L371.00 138.62 L371.75 138.88 L372.50 139.14 L373.25 139.40 L374.00 139.66 L374.75 139.92 L375.50 140.19 L376.25 140.45 L377.00 140.71 L377.75 140.98 L378.50 141.25 L379.25 141.51 L380.00 141.78 L380.75 142.05 L381.50 142.32 L382.25 142.59 L383.00 142.86 L383.75 143.13 L384.50 143.41 L385.25 143.68 L386.00 143.96 L386.75 144.23 L387.50 144.51 L388.25 144.79 L389.00 145.07 L389.75 145.35 L390.50 145.63 L391.25 145.91 L392.00 146.19 L392.75 146.48 L393.50 146.76 L394.25 147.05 L395.00 147.34 L395.75 147.62 L396.50 147.91 L397.25 148.20 L398.00 148.50 L398.75 148.79 L399.50 149.08 L400.25 149.38 L401.00 149.67 L401.75 149.97 L402.50 150.27 L403.25 150.57 L404.00 150.87 L404.75 151.17 L405.50 151.47 L406.25 151.77 L407.00 152.08 L407.75 152.38 L408.50 152.69 L408.50 278.50 L263.22 278.50 L263.00 277.11 L262.25 272.62 L261.50 268.39 L260.75 264.39 L260.00 260.60 L259.25 256.99 L258.50 253.55 L257.75 250.25 L257.00 247.09 L256.25 244.06 L255.50 241.14 L254.75 238.32 L254.00 235.60 L253.25 232.97 L252.50 230.43 L251.75 227.97 L251.00 225.58 L250.25 223.26 L249.50 221.01 L248.75 218.81 L248.00 216.68 L247.25 214.60 L246.50 212.58 L245.75 210.61 L245.00 208.68 L244.25 206.80 L243.50 204.96 L242.75 203.17 L242.00 201.41 L241.25 199.69 L240.50 198.01 L239.75 196.36 L239.00 194.75 L238.25 193.17 L237.50 191.62 L236.75 190.09 L236.00 188.60 L235.25 187.14 L234.50 185.70 L233.75 184.28 L233.00 182.89 L232.25 181.53 L231.50 180.19 L230.75 178.86 L230.00 177.57 L229.25 176.29 L228.50 175.03 L227.75 173.79 L227.00 172.57 L226.25 171.37 L225.50 170.19 L224.75 169.02 L224.00 167.87 L223.25 166.74 L222.50 165.62 L221.75 164.52 L221.00 163.44 L220.25 162.36 L219.50 161.31 L218.75 160.26 L218.00 159.23 L217.25 158.22 L216.50 157.21 L215.75 156.22 L215.00 155.24 L214.25 154.27 L213.50 153.32 L212.75 152.37 L212.00 151.44 L211.25 150.51 L210.50 149.60 L209.75 148.70 L209.00 147.81 L208.25 146.92 L207.50 146.05 L206.75 145.19 L206.00 144.33 L205.25 143.49 L204.50 142.65 L203.75 141.83 L203.00 141.01 L202.25 140.20 L201.50 139.39 L200.75 138.60 L200.00 137.81 L199.25 137.03 L198.50 136.26 L197.75 135.50 L197.00 134.74 L196.25 133.99 L195.50 133.25 L194.75 132.51 L194.00 131.79 L193.25 131.06 L192.50 130.35 L191.75 129.64 L191.00 128.93 L190.25 128.24 L189.50 127.55 L188.75 126.86 L188.00 126.18 L187.25 125.51 L186.50 124.84 L185.75 124.18 L185.00 123.52 L184.25 122.87 L183.50 122.22 L182.75 121.58 L182.00 120.95 L181.25 120.31 L180.50 119.69 L179.75 119.07 L179.00 118.45 L178.25 117.84 L177.50 117.23 L176.75 116.63 L176.00 116.03 L175.25 115.44 L174.50 114.85 L173.75 114.26 L173.00 113.68 L172.25 113.11 L171.50 112.54 L170.75 111.97 L170.00 111.40 L169.25 110.84 L168.50 110.29 L167.75 109.73 L167.00 109.19 L166.25 108.64 L165.50 108.10 L164.75 107.56 L164.00 107.03 L163.25 106.50 L162.50 105.97 L161.75 105.45 L161.00 104.93 L160.25 104.41 L159.50 103.90 L158.75 103.39 L158.00 102.88 L157.25 102.38 L156.50 101.88 L155.75 101.38 L155.00 100.89 L154.25 100.39 L153.50 99.91 L152.75 99.42 L152.00 98.94 L151.25 98.46 L150.50 97.98 L149.75 97.51 L149.00 97.04 L148.25 96.57 L147.50 96.11 L146.75 95.64 L146.00 95.18 L145.25 94.72 L144.50 94.27 L143.75 93.82 L143.00 93.37 L142.25 92.92 L141.50 92.48 L140.75 92.03 L140.00 91.59 L139.25 91.16 L138.50 90.72 L137.75 90.29 L137.00 89.86 L136.25 89.43 L135.50 89.01 L134.75 88.58 L134.00 88.16 L133.25 87.74 L132.50 87.33 L131.75 86.91 L131.00 86.50 L130.25 86.09 L129.50 85.68 L128.75 85.27 L128.00 84.87 L127.25 84.47Z" fill="#ebe8d7"/>
</g>
<g fill="none" stroke-width="2.25" stroke-linecap="butt" stroke-linejoin="round">
<path d="M48.50 44.56 L49.25 44.81 L50.00 45.05 L50.75 45.29 L51.50 45.54 L52.25 45.79 L53.00 46.03 L53.75 46.28 L54.50 46.53 L55.25 46.78 L56.00 47.03 L56.75 47.28 L57.50 47.53 L58.25 47.79 L59.00 48.04 L59.75 48.30 L60.50 48.55 L61.25 48.81 L62.00 49.06 L62.75 49.32 L63.50 49.58 L64.25 49.84 L65.00 50.10 L65.75 50.36 L66.50 50.62 L67.25 50.89 L68.00 51.15 L68.75 51.41 L69.50 51.68 L70.25 51.95 L71.00 52.21 L71.75 52.48 L72.50 52.75 L73.25 53.02 L74.00 53.29 L74.75 53.56 L75.50 53.84 L76.25 54.11 L77.00 54.38 L77.75 54.66 L78.50 54.94 L79.25 55.21 L80.00 55.49 L80.75 55.77 L81.50 56.05 L82.25 56.33 L83.00 56.62 L83.75 56.90 L84.50 57.18 L85.25 57.47 L86.00 57.75 L86.75 58.04 L87.50 58.33 L88.25 58.62 L89.00 58.91 L89.75 59.20 L90.50 59.49 L91.25 59.79 L92.00 60.08 L92.75 60.38 L93.50 60.68 L94.25 60.97 L95.00 61.27 L95.75 61.57 L96.50 61.88 L97.25 62.18 L98.00 62.48 L98.75 62.79 L99.50 63.09 L100.25 63.40 L101.00 63.71 L101.75 64.02 L102.50 64.33 L103.25 64.64 L104.00 64.96 L104.75 65.27 L105.50 65.59 L106.25 65.90 L107.00 66.22 L107.75 66.54 L108.50 66.86 L109.25 67.19 L110.00 67.51 L110.75 67.83 L111.50 68.16 L112.25 68.49 L113.00 68.82 L113.75 69.15 L114.50 69.48 L115.25 69.81 L116.00 70.15 L116.75 70.48 L117.50 70.82 L118.25 71.16 L119.00 71.50 L119.75 71.84 L120.50 72.18 L121.25 72.53 L122.00 72.87 L122.75 73.22 L123.50 73.57 L124.25 73.92 L125.00 74.27 L125.75 74.63 L126.50 74.98 L127.25 75.34 L128.00 75.70 L128.75 76.06 L129.50 76.42 L130.25 76.78 L131.00 77.15 L131.75 77.51 L132.50 77.88 L133.25 78.25 L134.00 78.62 L134.75 79.00 L135.50 79.37 L136.25 79.75 L137.00 80.13 L137.75 80.51 L138.50 80.89 L139.25 81.28 L140.00 81.66 L140.75 82.05 L141.50 82.44 L142.25 82.83 L143.00 83.23 L143.75 83.62 L144.50 84.02 L145.25 84.42 L146.00 84.82 L146.75 85.23 L147.50 85.63 L148.25 86.04 L149.00 86.45 L149.75 86.86 L150.50 87.28 L151.25 87.69 L152.00 88.11 L152.75 88.53 L153.50 88.96 L154.25 89.38 L155.00 89.81 L155.75 90.24 L156.50 90.67 L157.25 91.11 L158.00 91.54 L158.75 91.98 L159.50 92.42 L160.25 92.87 L161.00 93.32 L161.75 93.76 L162.50 94.22 L163.25 94.67 L164.00 95.13 L164.75 95.59 L165.50 96.05 L166.25 96.52 L167.00 96.98 L167.75 97.45 L168.50 97.93 L169.25 98.40 L170.00 98.88 L170.75 99.36 L171.50 99.85 L172.25 100.34 L173.00 100.83 L173.75 101.32 L174.50 101.82 L175.25 102.32 L176.00 102.82 L176.75 103.33 L177.50 103.84 L178.25 104.35 L179.00 104.87 L179.75 105.39 L180.50 105.91 L181.25 106.44 L182.00 106.97 L182.75 107.50 L183.50 108.04 L184.25 108.58 L185.00 109.12 L185.75 109.67 L186.50 110.22 L187.25 110.78 L188.00 111.34 L188.75 111.90 L189.50 112.47 L190.25 113.04 L191.00 113.62 L191.75 114.20 L192.50 114.78 L193.25 115.37 L194.00 115.96 L194.75 116.56 L195.50 117.16 L196.25 117.77 L197.00 118.38 L197.75 118.99 L198.50 119.61 L199.25 120.24 L200.00 120.87 L200.75 121.51 L201.50 122.15 L202.25 122.79 L203.00 123.44 L203.75 124.10 L204.50 124.76 L205.25 125.43 L206.00 126.10 L206.75 126.78 L207.50 127.47 L208.25 128.16 L209.00 128.85 L209.75 129.55 L210.50 130.26 L211.25 130.98 L212.00 131.70 L212.75 132.43 L213.50 133.16 L214.25 133.91 L215.00 134.65 L215.75 135.41 L216.50 136.17 L217.25 136.94 L218.00 137.72 L218.75 138.51 L219.50 139.30 L220.25 140.10 L221.00 140.91 L221.75 141.73 L222.50 142.56 L223.25 143.39 L224.00 144.23 L224.75 145.09 L225.50 145.95 L226.25 146.82 L227.00 147.70 L227.75 148.59 L228.50 149.49 L229.25 150.41 L230.00 151.33 L230.75 152.26 L231.50 153.20 L232.25 154.16 L233.00 155.12 L233.75 156.10 L234.50 157.09 L235.25 158.10 L236.00 159.11 L236.75 160.14 L237.50 161.18 L238.25 162.24 L239.00 163.31 L239.75 164.39 L240.50 165.49 L241.25 166.61 L242.00 167.74 L242.75 168.89 L243.50 170.05 L244.25 171.23 L245.00 172.43 L245.75 173.65 L246.50 174.88 L247.25 176.14 L248.00 177.41 L248.75 178.71 L249.50 180.03 L250.25 181.37 L251.00 182.73 L251.75 184.12 L252.50 185.53 L253.25 186.96 L254.00 188.43 L254.75 189.92 L255.50 191.44 L256.25 192.98 L257.00 194.56 L257.75 196.17 L258.50 197.82 L259.25 199.49 L260.00 201.21 L260.75 202.96 L261.50 204.75 L262.25 206.58 L263.00 208.46 L263.75 210.38 L264.50 212.35 L265.25 214.36 L266.00 216.43 L266.75 218.56 L267.50 220.74 L268.25 222.99 L269.00 225.30 L269.75 227.68 L270.50 230.14 L271.25 232.67 L272.00 235.29 L272.75 237.99 L273.50 240.80 L274.25 243.71 L275.00 246.73 L275.75 249.87 L276.50 253.15 L277.25 256.58 L278.00 260.17 L278.75 263.94 L279.50 267.91 L280.25 272.11 L281.00 276.57 L281.30 278.50" stroke="#0000ff" stroke-dasharray="2.6 1.6"/>
<path d="M48.50 37.22 L49.25 37.44 L50.00 37.66 L50.75 37.89 L51.50 38.11 L52.25 38.33 L53.00 38.56 L53.75 38.79 L54.50 39.01 L55.25 39.24 L56.00 39.47 L56.75 39.70 L57.50 39.92 L58.25 40.15 L59.00 40.38 L59.75 40.62 L60.50 40.85 L61.25 41.08 L62.00 41.31 L62.75 41.55 L63.50 41.78 L64.25 42.02 L65.00 42.25 L65.75 42.49 L66.50 42.73 L67.25 42.96 L68.00 43.20 L68.75 43.44 L69.50 43.68 L70.25 43.92 L71.00 44.17 L71.75 44.41 L72.50 44.65 L73.25 44.89 L74.00 45.14 L74.75 45.38 L75.50 45.63 L76.25 45.88 L77.00 46.13 L77.75 46.37 L78.50 46.62 L79.25 46.87 L80.00 47.12 L80.75 47.38 L81.50 47.63 L82.25 47.88 L83.00 48.13 L83.75 48.39 L84.50 48.64 L85.25 48.90 L86.00 49.16 L86.75 49.42 L87.50 49.68 L88.25 49.94 L89.00 50.20 L89.75 50.46 L90.50 50.72 L91.25 50.98 L92.00 51.25 L92.75 51.51 L93.50 51.78 L94.25 52.04 L95.00 52.31 L95.75 52.58 L96.50 52.85 L97.25 53.12 L98.00 53.39 L98.75 53.66 L99.50 53.94 L100.25 54.21 L101.00 54.48 L101.75 54.76 L102.50 55.04 L103.25 55.32 L104.00 55.59 L104.75 55.87 L105.50 56.15 L106.25 56.44 L107.00 56.72 L107.75 57.00 L108.50 57.29 L109.25 57.57 L110.00 57.86 L110.75 58.15 L111.50 58.44 L112.25 58.73 L113.00 59.02 L113.75 59.31 L114.50 59.60 L115.25 59.90 L116.00 60.19 L116.75 60.49 L117.50 60.79 L118.25 61.08 L119.00 61.38 L119.75 61.69 L120.50 61.99 L121.25 62.29 L122.00 62.59 L122.75 62.90 L123.50 63.21 L124.25 63.51 L125.00 63.82 L125.75 64.13 L126.50 64.45 L127.25 64.76 L128.00 65.07 L128.75 65.39 L129.50 65.70 L130.25 66.02 L131.00 66.34 L131.75 66.66 L132.50 66.98 L133.25 67.30 L134.00 67.63 L134.75 67.95 L135.50 68.28 L136.25 68.61 L137.00 68.94 L137.75 69.27 L138.50 69.60 L139.25 69.93 L140.00 70.27 L140.75 70.61 L141.50 70.94 L142.25 71.28 L143.00 71.62 L143.75 71.97 L144.50 72.31 L145.25 72.65 L146.00 73.00 L146.75 73.35 L147.50 73.70 L148.25 74.05 L149.00 74.40 L149.75 74.76 L150.50 75.11 L151.25 75.47 L152.00 75.83 L152.75 76.19 L153.50 76.55 L154.25 76.92 L155.00 77.28 L155.75 77.65 L156.50 78.02 L157.25 78.39 L158.00 78.76 L158.75 79.14 L159.50 79.51 L160.25 79.89 L161.00 80.27 L161.75 80.65 L162.50 81.03 L163.25 81.42 L164.00 81.81 L164.75 82.19 L165.50 82.59 L166.25 82.98 L167.00 83.37 L167.75 83.77 L168.50 84.17 L169.25 84.57 L170.00 84.97 L170.75 85.38 L171.50 85.78 L172.25 86.19 L173.00 86.60 L173.75 87.01 L174.50 87.43 L175.25 87.85 L176.00 88.27 L176.75 88.69 L177.50 89.11 L178.25 89.54 L179.00 89.97 L179.75 90.40 L180.50 90.83 L181.25 91.27 L182.00 91.70 L182.75 92.14 L183.50 92.59 L184.25 93.03 L185.00 93.48 L185.75 93.93 L186.50 94.38 L187.25 94.84 L188.00 95.30 L188.75 95.76 L189.50 96.22 L190.25 96.69 L191.00 97.16 L191.75 97.63 L192.50 98.10 L193.25 98.58 L194.00 99.06 L194.75 99.54 L195.50 100.03 L196.25 100.52 L197.00 101.01 L197.75 101.50 L198.50 102.00 L199.25 102.50 L200.00 103.01 L200.75 103.51 L201.50 104.03 L202.25 104.54 L203.00 105.06 L203.75 105.58 L204.50 106.10 L205.25 106.63 L206.00 107.16 L206.75 107.70 L207.50 108.23 L208.25 108.78 L209.00 109.32 L209.75 109.87 L210.50 110.43 L211.25 110.98 L212.00 111.54 L212.75 112.11 L213.50 112.68 L214.25 113.25 L215.00 113.83 L215.75 114.41 L216.50 115.00 L217.25 115.59 L218.00 116.18 L218.75 116.78 L219.50 117.38 L220.25 117.99 L221.00 118.60 L221.75 119.22 L222.50 119.84 L223.25 120.47 L224.00 121.10 L224.75 121.74 L225.50 122.38 L226.25 123.03 L227.00 123.68 L227.75 124.34 L228.50 125.01 L229.25 125.68 L230.00 126.35 L230.75 127.03 L231.50 127.72 L232.25 128.41 L233.00 129.11 L233.75 129.81 L234.50 130.53 L235.25 131.24 L236.00 131.97 L236.75 132.70 L237.50 133.44 L238.25 134.18 L239.00 134.93 L239.75 135.69 L240.50 136.46 L241.25 137.23 L242.00 138.01 L242.75 138.80 L243.50 139.59 L244.25 140.40 L245.00 141.21 L245.75 142.03 L246.50 142.86 L247.25 143.70 L248.00 144.55 L248.75 145.40 L249.50 146.27 L250.25 147.14 L251.00 148.03 L251.75 148.92 L252.50 149.83 L253.25 150.74 L254.00 151.67 L254.75 152.60 L255.50 153.55 L256.25 154.51 L257.00 155.48 L257.75 156.47 L258.50 157.46 L259.25 158.47 L260.00 159.49 L260.75 160.52 L261.50 161.57 L262.25 162.63 L263.00 163.71 L263.75 164.80 L264.50 165.90 L265.25 167.02 L266.00 168.16 L266.75 169.31 L267.50 170.48 L268.25 171.67 L269.00 172.88 L269.75 174.10 L270.50 175.34 L271.25 176.61 L272.00 177.89 L272.75 179.19 L273.50 180.52 L274.25 181.87 L275.00 183.24 L275.75 184.63 L276.50 186.05 L277.25 187.50 L278.00 188.97 L278.75 190.47 L279.50 192.00 L280.25 193.56 L281.00 195.15 L281.75 196.77 L282.50 198.43 L283.25 200.12 L284.00 201.85 L284.75 203.61 L285.50 205.42 L286.25 207.27 L287.00 209.16 L287.75 211.10 L288.50 213.08 L289.25 215.12 L290.00 217.21 L290.75 219.36 L291.50 221.56 L292.25 223.83 L293.00 226.17 L293.75 228.57 L294.50 231.06 L295.25 233.62 L296.00 236.27 L296.75 239.01 L297.50 241.85 L298.25 244.80 L299.00 247.87 L299.75 251.06 L300.50 254.39 L301.25 257.88 L302.00 261.53 L302.75 265.37 L303.50 269.42 L304.25 273.71 L305.00 278.28 L305.03 278.50" stroke="#ff8000" stroke-dasharray="2.6 1.6"/>
<path d="M48.50 50.65 L49.25 50.92 L50.00 51.18 L50.75 51.45 L51.50 51.71 L52.25 51.98 L53.00 52.24 L53.75 52.51 L54.50 52.78 L55.25 53.05 L56.00 53.32 L56.75 53.59 L57.50 53.87 L58.25 54.14 L59.00 54.42 L59.75 54.69 L60.50 54.97 L61.25 55.25 L62.00 55.52 L62.75 55.80 L63.50 56.08 L64.25 56.37 L65.00 56.65 L65.75 56.93 L66.50 57.22 L67.25 57.50 L68.00 57.79 L68.75 58.08 L69.50 58.36 L70.25 58.65 L71.00 58.94 L71.75 59.24 L72.50 59.53 L73.25 59.82 L74.00 60.12 L74.75 60.41 L75.50 60.71 L76.25 61.01 L77.00 61.31 L77.75 61.61 L78.50 61.91 L79.25 62.21 L80.00 62.52 L80.75 62.82 L81.50 63.13 L82.25 63.44 L83.00 63.75 L83.75 64.06 L84.50 64.37 L85.25 64.68 L86.00 64.99 L86.75 65.31 L87.50 65.62 L88.25 65.94 L89.00 66.26 L89.75 66.58 L90.50 66.90 L91.25 67.22 L92.00 67.55 L92.75 67.87 L93.50 68.20 L94.25 68.53 L95.00 68.86 L95.75 69.19 L96.50 69.52 L97.25 69.85 L98.00 70.19 L98.75 70.52 L99.50 70.86 L100.25 71.20 L101.00 71.54 L101.75 71.88 L102.50 72.22 L103.25 72.57 L104.00 72.91 L104.75 73.26 L105.50 73.61 L106.25 73.96 L107.00 74.31 L107.75 74.67 L108.50 75.02 L109.25 75.38 L110.00 75.74 L110.75 76.10 L111.50 76.46 L112.25 76.83 L113.00 77.19 L113.75 77.56 L114.50 77.93 L115.25 78.30 L116.00 78.67 L116.75 79.04 L117.50 79.42 L118.25 79.79 L119.00 80.17 L119.75 80.56 L120.50 80.94 L121.25 81.32 L122.00 81.71 L122.75 82.10 L123.50 82.49 L124.25 82.88 L125.00 83.27 L125.75 83.67 L126.50 84.07 L127.25 84.47 L128.00 84.87 L128.75 85.27 L129.50 85.68 L130.25 86.09 L131.00 86.50 L131.75 86.91 L132.50 87.33 L133.25 87.74 L134.00 88.16 L134.75 88.58 L135.50 89.01 L136.25 89.43 L137.00 89.86 L137.75 90.29 L138.50 90.72 L139.25 91.16 L140.00 91.59 L140.75 92.03 L141.50 92.48 L142.25 92.92 L143.00 93.37 L143.75 93.82 L144.50 94.27 L145.25 94.72 L146.00 95.18 L146.75 95.64 L147.50 96.11 L148.25 96.57 L149.00 97.04 L149.75 97.51 L150.50 97.98 L151.25 98.46 L152.00 98.94 L152.75 99.42 L153.50 99.91 L154.25 100.39 L155.00 100.89 L155.75 101.38 L156.50 101.88 L157.25 102.38 L158.00 102.88 L158.75 103.39 L159.50 103.90 L160.25 104.41 L161.00 104.93 L161.75 105.45 L162.50 105.97 L163.25 106.50 L164.00 107.03 L164.75 107.56 L165.50 108.10 L166.25 108.64 L167.00 109.19 L167.75 109.73 L168.50 110.29 L169.25 110.84 L170.00 111.40 L170.75 111.97 L171.50 112.54 L172.25 113.11 L173.00 113.68 L173.75 114.26 L174.50 114.85 L175.25 115.44 L176.00 116.03 L176.75 116.63 L177.50 117.23 L178.25 117.84 L179.00 118.45 L179.75 119.07 L180.50 119.69 L181.25 120.31 L182.00 120.95 L182.75 121.58 L183.50 122.22 L184.25 122.87 L185.00 123.52 L185.75 124.18 L186.50 124.84 L187.25 125.51 L188.00 126.18 L188.75 126.86 L189.50 127.55 L190.25 128.24 L191.00 128.93 L191.75 129.64 L192.50 130.35 L193.25 131.06 L194.00 131.79 L194.75 132.51 L195.50 133.25 L196.25 133.99 L197.00 134.74 L197.75 135.50 L198.50 136.26 L199.25 137.03 L200.00 137.81 L200.75 138.60 L201.50 139.39 L202.25 140.20 L203.00 141.01 L203.75 141.83 L204.50 142.65 L205.25 143.49 L206.00 144.33 L206.75 145.19 L207.50 146.05 L208.25 146.92 L209.00 147.81 L209.75 148.70 L210.50 149.60 L211.25 150.51 L212.00 151.44 L212.75 152.37 L213.50 153.32 L214.25 154.27 L215.00 155.24 L215.75 156.22 L216.50 157.21 L217.25 158.22 L218.00 159.23 L218.75 160.26 L219.50 161.31 L220.25 162.36 L221.00 163.44 L221.75 164.52 L222.50 165.62 L223.25 166.74 L224.00 167.87 L224.75 169.02 L225.50 170.19 L226.25 171.37 L227.00 172.57 L227.75 173.79 L228.50 175.03 L229.25 176.29 L230.00 177.57 L230.75 178.86 L231.50 180.19 L232.25 181.53 L233.00 182.89 L233.75 184.28 L234.50 185.70 L235.25 187.14 L236.00 188.60 L236.75 190.09 L237.50 191.62 L238.25 193.17 L239.00 194.75 L239.75 196.36 L240.50 198.01 L241.25 199.69 L242.00 201.41 L242.75 203.17 L243.50 204.96 L244.25 206.80 L245.00 208.68 L245.75 210.61 L246.50 212.58 L247.25 214.60 L248.00 216.68 L248.75 218.81 L249.50 221.01 L250.25 223.26 L251.00 225.58 L251.75 227.97 L252.50 230.43 L253.25 232.97 L254.00 235.60 L254.75 238.32 L255.50 241.14 L256.25 244.06 L257.00 247.09 L257.75 250.25 L258.50 253.55 L259.25 256.99 L260.00 260.60 L260.75 264.39 L261.50 268.39 L262.25 272.62 L263.00 277.11 L263.22 278.50" stroke="#ff00ff" stroke-dasharray="2.6 1.6"/>
<path d="M48.50 69.10 L49.25 69.21 L50.00 69.32 L50.75 69.43 L51.50 69.54 L52.25 69.65 L53.00 69.75 L53.75 69.86 L54.50 69.97 L55.25 70.08 L56.00 70.19 L56.75 70.30 L57.50 70.41 L58.25 70.52 L59.00 70.63 L59.75 70.74 L60.50 70.85 L61.25 70.96 L62.00 71.07 L62.75 71.18 L63.50 71.29 L64.25 71.40 L65.00 71.51 L65.75 71.63 L66.50 71.74 L67.25 71.85 L68.00 71.96 L68.75 72.07 L69.50 72.18 L70.25 72.30 L71.00 72.41 L71.75 72.52 L72.50 72.63 L73.25 72.75 L74.00 72.86 L74.75 72.97 L75.50 73.09 L76.25 73.20 L77.00 73.31 L77.75 73.43 L78.50 73.54 L79.25 73.66 L80.00 73.77 L80.75 73.88 L81.50 74.00 L82.25 74.11 L83.00 74.23 L83.75 74.34 L84.50 74.46 L85.25 74.58 L86.00 74.69 L86.75 74.81 L87.50 74.92 L88.25 75.04 L89.00 75.16 L89.75 75.27 L90.50 75.39 L91.25 75.51 L92.00 75.62 L92.75 75.74 L93.50 75.86 L94.25 75.97 L95.00 76.09 L95.75 76.21 L96.50 76.33 L97.25 76.45 L98.00 76.56 L98.75 76.68 L99.50 76.80 L100.25 76.92 L101.00 77.04 L101.75 77.16 L102.50 77.28 L103.25 77.40 L104.00 77.52 L104.75 77.64 L105.50 77.76 L106.25 77.88 L107.00 78.00 L107.75 78.12 L108.50 78.24 L109.25 78.36 L110.00 78.48 L110.75 78.60 L111.50 78.73 L112.25 78.85 L113.00 78.97 L113.75 79.09 L114.50 79.21 L115.25 79.34 L116.00 79.46 L116.75 79.58 L117.50 79.71 L118.25 79.83 L119.00 79.95 L119.75 80.08 L120.50 80.20 L121.25 80.33 L122.00 80.45 L122.75 80.57 L123.50 80.70 L124.25 80.82 L125.00 80.95 L125.75 81.07 L126.50 81.20 L127.25 81.33 L128.00 81.45 L128.75 81.58 L129.50 81.70 L130.25 81.83 L131.00 81.96 L131.75 82.08 L132.50 82.21 L133.25 82.34 L134.00 82.47 L134.75 82.59 L135.50 82.72 L136.25 82.85 L137.00 82.98 L137.75 83.11 L138.50 83.23 L139.25 83.36 L140.00 83.49 L140.75 83.62 L141.50 83.75 L142.25 83.88 L143.00 84.01 L143.75 84.14 L144.50 84.27 L145.25 84.40 L146.00 84.53 L146.75 84.66 L147.50 84.80 L148.25 84.93 L149.00 85.06 L149.75 85.19 L150.50 85.32 L151.25 85.45 L152.00 85.59 L152.75 85.72 L153.50 85.85 L154.25 85.99 L155.00 86.12 L155.75 86.25 L156.50 86.39 L157.25 86.52 L158.00 86.66 L158.75 86.79 L159.50 86.93 L160.25 87.06 L161.00 87.20 L161.75 87.33 L162.50 87.47 L163.25 87.60 L164.00 87.74 L164.75 87.88 L165.50 88.01 L166.25 88.15 L167.00 88.29 L167.75 88.42 L168.50 88.56 L169.25 88.70 L170.00 88.84 L170.75 88.98 L171.50 89.11 L172.25 89.25 L173.00 89.39 L173.75 89.53 L174.50 89.67 L175.25 89.81 L176.00 89.95 L176.75 90.09 L177.50 90.23 L178.25 90.37 L179.00 90.51 L179.75 90.65 L180.50 90.80 L181.25 90.94 L182.00 91.08 L182.75 91.22 L183.50 91.36 L184.25 91.51 L185.00 91.65 L185.75 91.79 L186.50 91.94 L187.25 92.08 L188.00 92.22 L188.75 92.37 L189.50 92.51 L190.25 92.66 L191.00 92.80 L191.75 92.95 L192.50 93.09 L193.25 93.24 L194.00 93.39 L194.75 93.53 L195.50 93.68 L196.25 93.83 L197.00 93.97 L197.75 94.12 L198.50 94.27 L199.25 94.42 L200.00 94.57 L200.75 94.71 L201.50 94.86 L202.25 95.01 L203.00 95.16 L203.75 95.31 L204.50 95.46 L205.25 95.61 L206.00 95.76 L206.75 95.91 L207.50 96.06 L208.25 96.22 L209.00 96.37 L209.75 96.52 L210.50 96.67 L211.25 96.82 L212.00 96.98 L212.75 97.13 L213.50 97.28 L214.25 97.44 L215.00 97.59 L215.75 97.75 L216.50 97.90 L217.25 98.06 L218.00 98.21 L218.75 98.37 L219.50 98.52 L220.25 98.68 L221.00 98.84 L221.75 98.99 L222.50 99.15 L223.25 99.31 L224.00 99.46 L224.75 99.62 L225.50 99.78 L226.25 99.94 L227.00 100.10 L227.75 100.26 L228.50 100.42 L229.25 100.58 L230.00 100.74 L230.75 100.90 L231.50 101.06 L232.25 101.22 L233.00 101.38 L233.75 101.54 L234.50 101.71 L235.25 101.87 L236.00 102.03 L236.75 102.19 L237.50 102.36 L238.25 102.52 L239.00 102.69 L239.75 102.85 L240.50 103.02 L241.25 103.18 L242.00 103.35 L242.75 103.51 L243.50 103.68 L244.25 103.85 L245.00 104.01 L245.75 104.18 L246.50 104.35 L247.25 104.52 L248.00 104.68 L248.75 104.85 L249.50 105.02 L250.25 105.19 L251.00 105.36 L251.75 105.53 L252.50 105.70 L253.25 105.87 L254.00 106.04 L254.75 106.22 L255.50 106.39 L256.25 106.56 L257.00 106.73 L257.75 106.91 L258.50 107.08 L259.25 107.25 L260.00 107.43 L260.75 107.60 L261.50 107.78 L262.25 107.95 L263.00 108.13 L263.75 108.30 L264.50 108.48 L265.25 108.66 L266.00 108.84 L266.75 109.01 L267.50 109.19 L268.25 109.37 L269.00 109.55 L269.75 109.73 L270.50 109.91 L271.25 110.09 L272.00 110.27 L272.75 110.45 L273.50 110.63 L274.25 110.81 L275.00 111.00 L275.75 111.18 L276.50 111.36 L277.25 111.54 L278.00 111.73 L278.75 111.91 L279.50 112.10 L280.25 112.28 L281.00 112.47 L281.75 112.65 L282.50 112.84 L283.25 113.03 L284.00 113.22 L284.75 113.40 L285.50 113.59 L286.25 113.78 L287.00 113.97 L287.75 114.16 L288.50 114.35 L289.25 114.54 L290.00 114.73 L290.75 114.92 L291.50 115.11 L292.25 115.31 L293.00 115.50 L293.75 115.69 L294.50 115.89 L295.25 116.08 L296.00 116.27 L296.75 116.47 L297.50 116.67 L298.25 116.86 L299.00 117.06 L299.75 117.26 L300.50 117.45 L301.25 117.65 L302.00 117.85 L302.75 118.05 L303.50 118.25 L304.25 118.45 L305.00 118.65 L305.75 118.85 L306.50 119.05 L307.25 119.25 L308.00 119.46 L308.75 119.66 L309.50 119.86 L310.25 120.07 L311.00 120.27 L311.75 120.48 L312.50 120.68 L313.25 120.89 L314.00 121.10 L314.75 121.30 L315.50 121.51 L316.25 121.72 L317.00 121.93 L317.75 122.14 L318.50 122.35 L319.25 122.56 L320.00 122.77 L320.75 122.98 L321.50 123.19 L322.25 123.41 L323.00 123.62 L323.75 123.83 L324.50 124.05 L325.25 124.26 L326.00 124.48 L326.75 124.70 L327.50 124.91 L328.25 125.13 L329.00 125.35 L329.75 125.57 L330.50 125.79 L331.25 126.01 L332.00 126.23 L332.75 126.45 L333.50 126.67 L334.25 126.89 L335.00 127.11 L335.75 127.34 L336.50 127.56 L337.25 127.79 L338.00 128.01 L338.75 128.24 L339.50 128.47 L340.25 128.69 L341.00 128.92 L341.75 129.15 L342.50 129.38 L343.25 129.61 L344.00 129.84 L344.75 130.07 L345.50 130.30 L346.25 130.54 L347.00 130.77 L347.75 131.00 L348.50 131.24 L349.25 131.47 L350.00 131.71 L350.75 131.95 L351.50 132.18 L352.25 132.42 L353.00 132.66 L353.75 132.90 L354.50 133.14 L355.25 133.38 L356.00 133.62 L356.75 133.87 L357.50 134.11 L358.25 134.36 L359.00 134.60 L359.75 134.85 L360.50 135.09 L361.25 135.34 L362.00 135.59 L362.75 135.84 L363.50 136.09 L364.25 136.34 L365.00 136.59 L365.75 136.84 L366.50 137.09 L367.25 137.34 L368.00 137.60 L368.75 137.85 L369.50 138.11 L370.25 138.37 L371.00 138.62 L371.75 138.88 L372.50 139.14 L373.25 139.40 L374.00 139.66 L374.75 139.92 L375.50 140.19 L376.25 140.45 L377.00 140.71 L377.75 140.98 L378.50 141.25 L379.25 141.51 L380.00 141.78 L380.75 142.05 L381.50 142.32 L382.25 142.59 L383.00 142.86 L383.75 143.13 L384.50 143.41 L385.25 143.68 L386.00 143.96 L386.75 144.23 L387.50 144.51 L388.25 144.79 L389.00 145.07 L389.75 145.35 L390.50 145.63 L391.25 145.91 L392.00 146.19 L392.75 146.48 L393.50 146.76 L394.25 147.05 L395.00 147.34 L395.75 147.62 L396.50 147.91 L397.25 148.20 L398.00 148.50 L398.75 148.79 L399.50 149.08 L400.25 149.38 L401.00 149.67 L401.75 149.97 L402.50 150.27 L403.25 150.57 L404.00 150.87 L404.75 151.17 L405.50 151.47 L406.25 151.77 L407.00 152.08 L407.75 152.38 L408.50 152.69" stroke="#ff0000" stroke-dasharray="4.75 2"/>
<path d="M48.50 94.80 L49.25 94.79 L50.00 94.78 L50.75 94.77 L51.50 94.75 L52.25 94.73 L53.00 94.70 L53.75 94.68 L54.50 94.65 L55.25 94.62 L56.00 94.59 L56.75 94.56 L57.50 94.52 L58.25 94.49 L59.00 94.45 L59.75 94.41 L60.50 94.37 L61.25 94.33 L62.00 94.28 L62.75 94.22 L63.50 94.17 L64.25 94.10 L65.00 94.04 L65.75 93.97 L66.50 93.90 L67.25 93.83 L68.00 93.76 L68.75 93.69 L69.50 93.61 L70.25 93.54 L71.00 93.46 L71.75 93.38 L72.50 93.30 L73.25 93.21 L74.00 93.13 L74.75 93.04 L75.50 92.95 L76.25 92.86 L77.00 92.77 L77.75 92.67 L78.50 92.58 L79.25 92.48 L80.00 92.38 L80.75 92.29 L81.50 92.19 L82.25 92.09 L83.00 91.99 L83.75 91.88 L84.50 91.78 L85.25 91.67 L86.00 91.56 L86.75 91.45 L87.50 91.34 L88.25 91.23 L89.00 91.11 L89.75 91.00 L90.50 90.88 L91.25 90.76 L92.00 90.64 L92.75 90.52 L93.50 90.40 L94.25 90.27 L95.00 90.15 L95.75 90.03 L96.50 89.90 L97.25 89.77 L98.00 89.65 L98.75 89.52 L99.50 89.39 L100.25 89.26 L101.00 89.12 L101.75 88.99 L102.50 88.85 L103.25 88.71 L104.00 88.57 L104.75 88.43 L105.50 88.29 L106.25 88.15 L107.00 88.01 L107.75 87.87 L108.50 87.73 L109.25 87.59 L110.00 87.46 L110.75 87.32 L111.50 87.18 L112.25 87.05 L113.00 86.91 L113.75 86.77 L114.50 86.64 L115.25 86.51 L116.00 86.37 L116.75 86.24 L117.50 86.10 L118.25 85.97 L119.00 85.83 L119.75 85.70 L120.50 85.56 L121.25 85.42 L122.00 85.29 L122.75 85.15 L123.50 85.01 L124.25 84.87 L125.00 84.73 L125.75 84.59 L126.50 84.45 L127.25 84.30 L128.00 84.16 L128.75 84.01 L129.50 83.86 L130.25 83.71 L131.00 83.56 L131.75 83.41 L132.50 83.26 L133.25 83.11 L134.00 82.96 L134.75 82.81 L135.50 82.66 L136.25 82.52 L137.00 82.37 L137.75 82.22 L138.50 82.08 L139.25 81.94 L140.00 81.80 L140.75 81.66 L141.50 81.53 L142.25 81.39 L143.00 81.25 L143.75 81.12 L144.50 80.98 L145.25 80.85 L146.00 80.72 L146.75 80.58 L147.50 80.45 L148.25 80.32 L149.00 80.19 L149.75 80.06 L150.50 79.93 L151.25 79.80 L152.00 79.68 L152.75 79.55 L153.50 79.42 L154.25 79.30 L155.00 79.17 L155.75 79.05 L156.50 78.92 L157.25 78.80 L158.00 78.68 L158.75 78.55 L159.50 78.43 L160.25 78.31 L161.00 78.19 L161.75 78.07 L162.50 77.95 L163.25 77.83 L164.00 77.72 L164.75 77.60 L165.50 77.48 L166.25 77.36 L167.00 77.25 L167.75 77.13 L168.50 77.02 L169.25 76.90 L170.00 76.79 L170.75 76.67 L171.50 76.56 L172.25 76.44 L173.00 76.33 L173.75 76.22 L174.50 76.11 L175.25 75.99 L176.00 75.88 L176.75 75.77 L177.50 75.66 L178.25 75.55 L179.00 75.44 L179.75 75.33 L180.50 75.22 L181.25 75.11 L182.00 75.00 L182.75 74.89 L183.50 74.78 L184.25 74.67 L185.00 74.56 L185.75 74.45 L186.50 74.34 L187.25 74.23 L188.00 74.13 L188.75 74.02 L189.50 73.91 L190.25 73.80 L191.00 73.69 L191.75 73.59 L192.50 73.48 L193.25 73.37 L194.00 73.26 L194.75 73.15 L195.50 73.05 L196.25 72.94 L197.00 72.83 L197.75 72.72 L198.50 72.62 L199.25 72.51 L200.00 72.40 L200.75 72.29 L201.50 72.18 L202.25 72.08 L203.00 71.97 L203.75 71.87 L204.50 71.76 L205.25 71.65 L206.00 71.55 L206.75 71.44 L207.50 71.34 L208.25 71.23 L209.00 71.13 L209.75 71.03 L210.50 70.92 L211.25 70.82 L212.00 70.71 L212.75 70.61 L213.50 70.51 L214.25 70.40 L215.00 70.30 L215.75 70.19 L216.50 70.09 L217.25 69.99 L218.00 69.88 L218.75 69.78 L219.50 69.67 L220.25 69.57 L221.00 69.46 L221.75 69.36 L222.50 69.25 L223.25 69.15 L224.00 69.04 L224.75 68.94 L225.50 68.83 L226.25 68.72 L227.00 68.61 L227.75 68.51 L228.50 68.40 L229.25 68.29 L230.00 68.18 L230.75 68.08 L231.50 67.97 L232.25 67.86 L233.00 67.75 L233.75 67.64 L234.50 67.53 L235.25 67.42 L236.00 67.31 L236.75 67.20 L237.50 67.09 L238.25 66.98 L239.00 66.87 L239.75 66.76 L240.50 66.65 L241.25 66.54 L242.00 66.43 L242.75 66.32 L243.50 66.20 L244.25 66.09 L245.00 65.98 L245.75 65.87 L246.50 65.76 L247.25 65.65 L248.00 65.53 L248.75 65.42 L249.50 65.31 L250.25 65.20 L251.00 65.09 L251.75 64.97 L252.50 64.86 L253.25 64.75 L254.00 64.64 L254.75 64.53 L255.50 64.41 L256.25 64.30 L257.00 64.19 L257.75 64.08 L258.50 63.96 L259.25 63.85 L260.00 63.74 L260.75 63.63 L261.50 63.51 L262.25 63.40 L263.00 63.29 L263.75 63.18 L264.50 63.07 L265.25 62.95 L266.00 62.84 L266.75 62.73 L267.50 62.62 L268.25 62.51 L269.00 62.40 L269.75 62.28 L270.50 62.17 L271.25 62.06 L272.00 61.95 L272.75 61.84 L273.50 61.73 L274.25 61.62 L275.00 61.51 L275.75 61.40 L276.50 61.29 L277.25 61.18 L278.00 61.07 L278.75 60.96 L279.50 60.85 L280.25 60.74 L281.00 60.63 L281.75 60.52 L282.50 60.42 L283.25 60.31 L284.00 60.20 L284.75 60.09 L285.50 59.98 L286.25 59.88 L287.00 59.77 L287.75 59.66 L288.50 59.56 L289.25 59.45 L290.00 59.34 L290.75 59.24 L291.50 59.13 L292.25 59.03 L293.00 58.92 L293.75 58.82 L294.50 58.72 L295.25 58.61 L296.00 58.51 L296.75 58.41 L297.50 58.30 L298.25 58.20 L299.00 58.10 L299.75 58.00 L300.50 57.90 L301.25 57.80 L302.00 57.70 L302.75 57.60 L303.50 57.50 L304.25 57.40 L305.00 57.30 L305.75 57.20 L306.50 57.10 L307.25 57.01 L308.00 56.91 L308.75 56.81 L309.50 56.71 L310.25 56.61 L311.00 56.52 L311.75 56.42 L312.50 56.32 L313.25 56.22 L314.00 56.13 L314.75 56.03 L315.50 55.93 L316.25 55.84 L317.00 55.74 L317.75 55.64 L318.50 55.55 L319.25 55.45 L320.00 55.35 L320.75 55.26 L321.50 55.16 L322.25 55.07 L323.00 54.97 L323.75 54.88 L324.50 54.78 L325.25 54.68 L326.00 54.59 L326.75 54.49 L327.50 54.40 L328.25 54.30 L329.00 54.21 L329.75 54.12 L330.50 54.02 L331.25 53.93 L332.00 53.83 L332.75 53.74 L333.50 53.64 L334.25 53.55 L335.00 53.46 L335.75 53.36 L336.50 53.27 L337.25 53.18 L338.00 53.08 L338.75 52.99 L339.50 52.90 L340.25 52.80 L341.00 52.71 L341.75 52.62 L342.50 52.53 L343.25 52.44 L344.00 52.34 L344.75 52.25 L345.50 52.16 L346.25 52.07 L347.00 51.98 L347.75 51.88 L348.50 51.79 L349.25 51.70 L350.00 51.61 L350.75 51.52 L351.50 51.43 L352.25 51.34 L353.00 51.25 L353.75 51.16 L354.50 51.07 L355.25 50.98 L356.00 50.89 L356.75 50.80 L357.50 50.71 L358.25 50.62 L359.00 50.53 L359.75 50.44 L360.50 50.35 L361.25 50.26 L362.00 50.18 L362.75 50.09 L363.50 50.00 L364.25 49.91 L365.00 49.82 L365.75 49.74 L366.50 49.65 L367.25 49.56 L368.00 49.47 L368.75 49.39 L369.50 49.30 L370.25 49.21 L371.00 49.12 L371.75 49.04 L372.50 48.95 L373.25 48.87 L374.00 48.78 L374.75 48.69 L375.50 48.61 L376.25 48.52 L377.00 48.44 L377.75 48.35 L378.50 48.27 L379.25 48.18 L380.00 48.10 L380.75 48.01 L381.50 47.93 L382.25 47.84 L383.00 47.76 L383.75 47.67 L384.50 47.59 L385.25 47.51 L386.00 47.42 L386.75 47.34 L387.50 47.26 L388.25 47.17 L389.00 47.09 L389.75 47.01 L390.50 46.93 L391.25 46.84 L392.00 46.76 L392.75 46.68 L393.50 46.60 L394.25 46.52 L395.00 46.43 L395.75 46.35 L396.50 46.27 L397.25 46.19 L398.00 46.11 L398.75 46.03 L399.50 45.95 L400.25 45.87 L401.00 45.79 L401.75 45.71 L402.50 45.63 L403.25 45.55 L404.00 45.47 L404.75 45.39 L405.50 45.31 L406.25 45.24 L407.00 45.16 L407.75 45.08 L408.50 45.00" stroke="#800080" stroke-width="2" stroke-dasharray="6.3 1.9 2.3 1.9" stroke-dashoffset="3.8"/>
<path d="M48.50 58.10 L49.25 58.20 L50.00 58.30 L50.75 58.39 L51.50 58.49 L52.25 58.58 L53.00 58.68 L53.75 58.77 L54.50 58.87 L55.25 58.96 L56.00 59.06 L56.75 59.16 L57.50 59.25 L58.25 59.35 L59.00 59.45 L59.75 59.54 L60.50 59.64 L61.25 59.74 L62.00 59.83 L62.75 59.93 L63.50 60.03 L64.25 60.13 L65.00 60.22 L65.75 60.32 L66.50 60.42 L67.25 60.52 L68.00 60.62 L68.75 60.71 L69.50 60.81 L70.25 60.91 L71.00 61.01 L71.75 61.11 L72.50 61.21 L73.25 61.30 L74.00 61.40 L74.75 61.50 L75.50 61.60 L76.25 61.70 L77.00 61.80 L77.75 61.90 L78.50 62.00 L79.25 62.10 L80.00 62.20 L80.75 62.30 L81.50 62.40 L82.25 62.50 L83.00 62.60 L83.75 62.70 L84.50 62.80 L85.25 62.90 L86.00 63.00 L86.75 63.11 L87.50 63.21 L88.25 63.31 L89.00 63.41 L89.75 63.51 L90.50 63.61 L91.25 63.71 L92.00 63.82 L92.75 63.92 L93.50 64.02 L94.25 64.12 L95.00 64.23 L95.75 64.33 L96.50 64.43 L97.25 64.53 L98.00 64.64 L98.75 64.74 L99.50 64.84 L100.25 64.95 L101.00 65.05 L101.75 65.16 L102.50 65.26 L103.25 65.36 L104.00 65.47 L104.75 65.57 L105.50 65.68 L106.25 65.78 L107.00 65.89 L107.75 65.99 L108.50 66.10 L109.25 66.20 L110.00 66.31 L110.75 66.41 L111.50 66.52 L112.25 66.62 L113.00 66.73 L113.75 66.83 L114.50 66.94 L115.25 67.05 L116.00 67.15 L116.75 67.26 L117.50 67.37 L118.25 67.47 L119.00 67.58 L119.75 67.69 L120.50 67.79 L121.25 67.90 L122.00 68.01 L122.75 68.12 L123.50 68.22 L124.25 68.33 L125.00 68.44 L125.75 68.55 L126.50 68.66 L127.25 68.77 L128.00 68.87 L128.75 68.98 L129.50 69.09 L130.25 69.20 L131.00 69.31 L131.75 69.42 L132.50 69.53 L133.25 69.64 L134.00 69.75 L134.75 69.86 L135.50 69.97 L136.25 70.08 L137.00 70.19 L137.75 70.30 L138.50 70.41 L139.25 70.52 L140.00 70.63 L140.75 70.75 L141.50 70.86 L142.25 70.97 L143.00 71.08 L143.75 71.19 L144.50 71.30 L145.25 71.42 L146.00 71.53 L146.75 71.64 L147.50 71.75 L148.25 71.87 L149.00 71.98 L149.75 72.09 L150.50 72.21 L151.25 72.32 L152.00 72.43 L152.75 72.55 L153.50 72.66 L154.25 72.78 L155.00 72.89 L155.75 73.00 L156.50 73.12 L157.25 73.23 L158.00 73.35 L158.75 73.46 L159.50 73.58 L160.25 73.69 L161.00 73.81 L161.75 73.93 L162.50 74.04 L163.25 74.16 L164.00 74.27 L164.75 74.39 L165.50 74.51 L166.25 74.62 L167.00 74.74 L167.75 74.86 L168.50 74.98 L169.25 75.09 L170.00 75.21 L170.75 75.33 L171.50 75.45 L172.25 75.56 L173.00 75.68 L173.75 75.80 L174.50 75.92 L175.25 76.04 L176.00 76.16 L176.75 76.28 L177.50 76.40 L178.25 76.52 L179.00 76.64 L179.75 76.76 L180.50 76.88 L181.25 77.00 L182.00 77.12 L182.75 77.24 L183.50 77.36 L184.25 77.48 L185.00 77.60 L185.75 77.72 L186.50 77.84 L187.25 77.97 L188.00 78.09 L188.75 78.21 L189.50 78.33 L190.25 78.46 L191.00 78.58 L191.75 78.70 L192.50 78.82 L193.25 78.95 L194.00 79.07 L194.75 79.20 L195.50 79.32 L196.25 79.44 L197.00 79.57 L197.75 79.69 L198.50 79.82 L199.25 79.94 L200.00 80.07 L200.75 80.19 L201.50 80.32 L202.25 80.44 L203.00 80.57 L203.75 80.69 L204.50 80.82 L205.25 80.95 L206.00 81.07 L206.75 81.20 L207.50 81.33 L208.25 81.46 L209.00 81.58 L209.75 81.71 L210.50 81.84 L211.25 81.97 L212.00 82.09 L212.75 82.22 L213.50 82.35 L214.25 82.48 L215.00 82.61 L215.75 82.74 L216.50 82.87 L217.25 83.00 L218.00 83.13 L218.75 83.26 L219.50 83.39 L220.25 83.52 L221.00 83.65 L221.75 83.78 L222.50 83.91 L223.25 84.04 L224.00 84.18 L224.75 84.31 L225.50 84.44 L226.25 84.57 L227.00 84.70 L227.75 84.84 L228.50 84.97 L229.25 85.10 L230.00 85.24 L230.75 85.37 L231.50 85.50 L232.25 85.64 L233.00 85.77 L233.75 85.91 L234.50 86.04 L235.25 86.18 L236.00 86.31 L236.75 86.45 L237.50 86.58 L238.25 86.72 L239.00 86.86 L239.75 86.99 L240.50 87.13 L241.25 87.27 L242.00 87.40 L242.75 87.54 L243.50 87.68 L244.25 87.81 L245.00 87.95 L245.75 88.09 L246.50 88.23 L247.25 88.37 L248.00 88.51 L248.75 88.65 L249.50 88.79 L250.25 88.93 L251.00 89.07 L251.75 89.21 L252.50 89.35 L253.25 89.49 L254.00 89.63 L254.75 89.77 L255.50 89.91 L256.25 90.05 L257.00 90.19 L257.75 90.34 L258.50 90.48 L259.25 90.62 L260.00 90.77 L260.75 90.91 L261.50 91.05 L262.25 91.20 L263.00 91.34 L263.75 91.48 L264.50 91.63 L265.25 91.77 L266.00 91.92 L266.75 92.06 L267.50 92.21 L268.25 92.36 L269.00 92.50 L269.75 92.65 L270.50 92.79 L271.25 92.94 L272.00 93.09 L272.75 93.24 L273.50 93.38 L274.25 93.53 L275.00 93.68 L275.75 93.83 L276.50 93.98 L277.25 94.13 L278.00 94.28 L278.75 94.43 L279.50 94.58 L280.25 94.73 L281.00 94.88 L281.75 95.03 L282.50 95.18 L283.25 95.33 L284.00 95.48 L284.75 95.63 L285.50 95.79 L286.25 95.94 L287.00 96.09 L287.75 96.24 L288.50 96.40 L289.25 96.55 L290.00 96.71 L290.75 96.86 L291.50 97.01 L292.25 97.17 L293.00 97.32 L293.75 97.48 L294.50 97.64 L295.25 97.79 L296.00 97.95 L296.75 98.11 L297.50 98.26 L298.25 98.42 L299.00 98.58 L299.75 98.74 L300.50 98.89 L301.25 99.05 L302.00 99.21 L302.75 99.37 L303.50 99.53 L304.25 99.69 L305.00 99.85 L305.75 100.01 L306.50 100.17 L307.25 100.33 L308.00 100.49 L308.75 100.66 L309.50 100.82 L310.25 100.98 L311.00 101.14 L311.75 101.31 L312.50 101.47 L313.25 101.63 L314.00 101.80 L314.75 101.96 L315.50 102.13 L316.25 102.29 L317.00 102.46 L317.75 102.62 L318.50 102.79 L319.25 102.96 L320.00 103.12 L320.75 103.29 L321.50 103.46 L322.25 103.63 L323.00 103.80 L323.75 103.96 L324.50 104.13 L325.25 104.30 L326.00 104.47 L326.75 104.64 L327.50 104.81 L328.25 104.98 L329.00 105.16 L329.75 105.33 L330.50 105.50 L331.25 105.67 L332.00 105.84 L332.75 106.02 L333.50 106.19 L334.25 106.36 L335.00 106.54 L335.75 106.71 L336.50 106.89 L337.25 107.06 L338.00 107.24 L338.75 107.42 L339.50 107.59 L340.25 107.77 L341.00 107.95 L341.75 108.12 L342.50 108.30 L343.25 108.48 L344.00 108.66 L344.75 108.84 L345.50 109.02 L346.25 109.20 L347.00 109.38 L347.75 109.56 L348.50 109.74 L349.25 109.92 L350.00 110.11 L350.75 110.29 L351.50 110.47 L352.25 110.65 L353.00 110.84 L353.75 111.02 L354.50 111.21 L355.25 111.39 L356.00 111.58 L356.75 111.76 L357.50 111.95 L358.25 112.14 L359.00 112.32 L359.75 112.51 L360.50 112.70 L361.25 112.89 L362.00 113.08 L362.75 113.27 L363.50 113.46 L364.25 113.65 L365.00 113.84 L365.75 114.03 L366.50 114.22 L367.25 114.41 L368.00 114.61 L368.75 114.80 L369.50 114.99 L370.25 115.19 L371.00 115.38 L371.75 115.58 L372.50 115.77 L373.25 115.97 L374.00 116.17 L374.75 116.36 L375.50 116.56 L376.25 116.76 L377.00 116.96 L377.75 117.16 L378.50 117.36 L379.25 117.56 L380.00 117.76 L380.75 117.96 L381.50 118.16 L382.25 118.36 L383.00 118.56 L383.75 118.77 L384.50 118.97 L385.25 119.17 L386.00 119.38 L386.75 119.58 L387.50 119.79 L388.25 119.99 L389.00 120.20 L389.75 120.41 L390.50 120.62 L391.25 120.82 L392.00 121.03 L392.75 121.24 L393.50 121.45 L394.25 121.66 L395.00 121.87 L395.75 122.09 L396.50 122.30 L397.25 122.51 L398.00 122.72 L398.75 122.94 L399.50 123.15 L400.25 123.37 L401.00 123.58 L401.75 123.80 L402.50 124.02 L403.25 124.23 L404.00 124.45 L404.75 124.67 L405.50 124.89 L406.25 125.11 L407.00 125.33 L407.75 125.55 L408.50 125.77" stroke="#00ff00"/>
</g>
<g stroke="#7c7c7c" stroke-width="0.85" fill="none">
<rect x="48.5" y="22.5" width="360.0" height="256.0"/>
<path d="M48.50 278.5v-3M48.50 22.5v3M138.50 278.5v-3M138.50 22.5v3M228.50 278.5v-3M228.50 22.5v3M318.50 278.5v-3M318.50 22.5v3M408.50 278.5v-3M408.50 22.5v3M48.5 278.50h3M408.5 278.50h-3M48.5 246.15h3M408.5 246.15h-3M48.5 223.20h3M408.5 223.20h-3M48.5 190.85h3M408.5 190.85h-3M48.5 150.10h3M408.5 150.10h-3M48.5 123.26h3M408.5 123.26h-3M48.5 94.80h3M408.5 94.80h-3M48.5 62.45h3M408.5 62.45h-3M48.5 39.50h3M408.5 39.50h-3"/>
</g>
<g stroke="#8c8c8c" stroke-width="0.8" fill="none">
<path d="M97.20 278.5v-1.8M97.20 22.5v1.8M109.63 278.5v-1.8M109.63 22.5v1.8M116.91 278.5v-1.8M116.91 22.5v1.8M122.07 278.5v-1.8M122.07 22.5v1.8M126.07 278.5v-1.8M126.07 22.5v1.8M129.34 278.5v-1.8M129.34 22.5v1.8M132.10 278.5v-1.8M132.10 22.5v1.8M134.50 278.5v-1.8M134.50 22.5v1.8M136.61 278.5v-1.8M136.61 22.5v1.8M187.20 278.5v-1.8M187.20 22.5v1.8M199.63 278.5v-1.8M199.63 22.5v1.8M206.91 278.5v-1.8M206.91 22.5v1.8M212.07 278.5v-1.8M212.07 22.5v1.8M216.07 278.5v-1.8M216.07 22.5v1.8M219.34 278.5v-1.8M219.34 22.5v1.8M222.10 278.5v-1.8M222.10 22.5v1.8M224.50 278.5v-1.8M224.50 22.5v1.8M226.61 278.5v-1.8M226.61 22.5v1.8M277.20 278.5v-1.8M277.20 22.5v1.8M289.63 278.5v-1.8M289.63 22.5v1.8M296.91 278.5v-1.8M296.91 22.5v1.8M302.07 278.5v-1.8M302.07 22.5v1.8M306.07 278.5v-1.8M306.07 22.5v1.8M309.34 278.5v-1.8M309.34 22.5v1.8M312.10 278.5v-1.8M312.10 22.5v1.8M314.50 278.5v-1.8M314.50 22.5v1.8M316.61 278.5v-1.8M316.61 22.5v1.8M367.20 278.5v-1.8M367.20 22.5v1.8M379.63 278.5v-1.8M379.63 22.5v1.8M386.91 278.5v-1.8M386.91 22.5v1.8M392.07 278.5v-1.8M392.07 22.5v1.8M396.07 278.5v-1.8M396.07 22.5v1.8M399.34 278.5v-1.8M399.34 22.5v1.8M402.10 278.5v-1.8M402.10 22.5v1.8M404.50 278.5v-1.8M404.50 22.5v1.8M406.61 278.5v-1.8M406.61 22.5v1.8M48.5 270.90h1.8M408.5 270.90h-1.8M48.5 263.95h1.8M408.5 263.95h-1.8M48.5 257.57h1.8M408.5 257.57h-1.8M48.5 251.66h1.8M408.5 251.66h-1.8M48.5 241.00h1.8M408.5 241.00h-1.8M48.5 236.17h1.8M408.5 236.17h-1.8M48.5 231.61h1.8M408.5 231.61h-1.8M48.5 227.29h1.8M408.5 227.29h-1.8M48.5 205.40h1.8M408.5 205.40h-1.8M48.5 178.55h1.8M408.5 178.55h-1.8M48.5 167.90h1.8M408.5 167.90h-1.8M48.5 158.50h1.8M408.5 158.50h-1.8M48.5 135.55h1.8M408.5 135.55h-1.8M48.5 112.60h1.8M408.5 112.60h-1.8M48.5 103.21h1.8M408.5 103.21h-1.8M48.5 87.20h1.8M408.5 87.20h-1.8M48.5 80.25h1.8M408.5 80.25h-1.8M48.5 73.87h1.8M408.5 73.87h-1.8M48.5 67.96h1.8M408.5 67.96h-1.8M48.5 57.30h1.8M408.5 57.30h-1.8M48.5 52.47h1.8M408.5 52.47h-1.8M48.5 47.91h1.8M408.5 47.91h-1.8M48.5 43.59h1.8M408.5 43.59h-1.8"/>
</g>
<g font-family="'Liberation Serif', serif" fill="#000">
<text transform="translate(46.70 284.90) scale(0.940 1)" font-size="14.50" text-anchor="end">1.0</text>
<text transform="translate(46.70 252.55) scale(0.940 1)" font-size="14.50" text-anchor="end">1.5</text>
<text transform="translate(46.70 229.60) scale(0.940 1)" font-size="14.50" text-anchor="end">2.0</text>
<text transform="translate(46.70 197.25) scale(0.940 1)" font-size="14.50" text-anchor="end">3.0</text>
<text transform="translate(46.70 156.50) scale(0.940 1)" font-size="14.50" text-anchor="end">5.0</text>
<text transform="translate(46.70 129.66) scale(0.940 1)" font-size="14.50" text-anchor="end">7.0</text>
<text transform="translate(46.70 101.20) scale(0.940 1)" font-size="14.50" text-anchor="end">10.0</text>
<text transform="translate(46.70 68.85) scale(0.940 1)" font-size="14.50" text-anchor="end">15.0</text>
<text transform="translate(46.70 45.90) scale(0.940 1)" font-size="14.50" text-anchor="end">20.0</text>
<text transform="translate(48.50 296.90) scale(0.940 1)" font-size="14.50" text-anchor="middle">100</text>
<text transform="translate(138.50 296.80) scale(0.940 1)" font-size="14.50" text-anchor="middle">10<tspan font-size="10.5" dy="-6">4</tspan></text>
<text transform="translate(228.50 296.80) scale(0.940 1)" font-size="14.50" text-anchor="middle">10<tspan font-size="10.5" dy="-6">6</tspan></text>
<text transform="translate(318.50 296.80) scale(0.940 1)" font-size="14.50" text-anchor="middle">10<tspan font-size="10.5" dy="-6">8</tspan></text>
<text transform="translate(408.50 296.80) scale(0.940 1)" font-size="14.50" text-anchor="middle">10<tspan font-size="10.5" dy="-6">10</tspan></text>
<text transform="translate(228.50 321.70) scale(0.935 1)" font-size="14.50" text-anchor="middle"><tspan font-style="italic">M</tspan><tspan font-style="italic" font-size="10" dy="3">N</tspan><tspan dy="-3"> (GeV)</tspan></text>
<text transform="translate(13.8 150.3) rotate(-90) scale(1 0.96)" font-size="14.5" text-anchor="middle">Im Z</text>
<text transform="translate(351.50 47.00) scale(0.920 1)" font-size="18.00" text-anchor="start">NH</text>
<text transform="translate(260.50 149.50) scale(0.920 1)" font-size="18.00" text-anchor="start"><tspan font-style="italic">m</tspan><tspan font-style="italic" font-size="12.5" dy="3.5">h</tspan><tspan dy="-3.5"> = 126 GeV</tspan></text>
<text transform="translate(265.30 175.50) scale(0.920 1)" font-size="18.00" text-anchor="start"><tspan font-style="italic">m</tspan><tspan font-style="italic" font-size="12.5" dy="3.5">t</tspan><tspan dy="-3.5"> = 173.2 GeV</tspan></text>
<text transform="translate(269.00 203.00) scale(0.920 1)" font-size="18.00" text-anchor="start"><tspan font-style="italic">α</tspan><tspan font-style="italic" font-size="12.5" dy="3.5">s</tspan><tspan dy="-3.5" dx="2"> = </tspan><tspan dx="2">0.1184</tspan></text>
<text transform="translate(139.80 250.80) scale(0.920 1)" font-size="14.50" text-anchor="start">Allowed Region</text>
<text transform="translate(93.50 165.60) scale(0.920 1)" font-size="8.90" text-anchor="start">Naturalness (<tspan font-style="italic">δμ</tspan><tspan font-size="7" dy="-3.2" dx="2.3">2</tspan><tspan dy="3.2" dx="-0.5">&lt;</tspan><tspan dx="-1.8"> (1 TeV)</tspan><tspan font-size="7" dy="-3.2" dx="0.2">2</tspan><tspan dy="3.2" dx="1.7">)</tspan></text>
<text transform="translate(93.50 185.00) scale(0.920 1)" font-size="8.90" text-anchor="start">Naturalness (<tspan font-style="italic">δμ</tspan><tspan font-size="7" dy="-3.2" dx="2.3">2</tspan><tspan dy="3.2" dx="-0.5">&lt;</tspan><tspan dx="-1.8"> (5 TeV)</tspan><tspan font-size="7" dy="-3.2" dx="0.2">2</tspan><tspan dy="3.2" dx="1.7">)</tspan></text>
<text transform="translate(93.50 204.80) scale(0.920 1)" font-size="8.90" text-anchor="start">Naturalness (<tspan font-style="italic">δμ</tspan><tspan font-size="7" dy="-3.2" dx="2.3">2</tspan><tspan dy="3.2" dx="-0.5">&lt;</tspan><tspan dx="-1.8"> (0.2 TeV)</tspan><tspan font-size="7" dy="-3.2" dx="0.2">2</tspan><tspan dy="3.2" dx="1.7">)</tspan></text>
<text transform="translate(93.50 224.30) scale(0.920 1)" font-size="8.90" text-anchor="start">Metastability</text>
<text transform="translate(93.50 243.30) scale(0.920 1)" font-size="8.90" text-anchor="start">LFV</text>
<text transform="translate(93.50 262.00) scale(0.920 1)" font-size="8.90" text-anchor="start">Perturbativity</text>
</g>
<circle cx="84.7" cy="162.8" r="3.6" fill="#0000ff"/>
<circle cx="84.7" cy="182.2" r="3.6" fill="#ff8000"/>
<circle cx="84.7" cy="202.0" r="3.6" fill="#ff00ff"/>
<circle cx="84.7" cy="221.5" r="3.6" fill="#ff0000"/>
<circle cx="84.7" cy="240.5" r="3.6" fill="#800080"/>
<circle cx="84.7" cy="259.2" r="3.6" fill="#00ff00"/>
</svg>
</body></html>
